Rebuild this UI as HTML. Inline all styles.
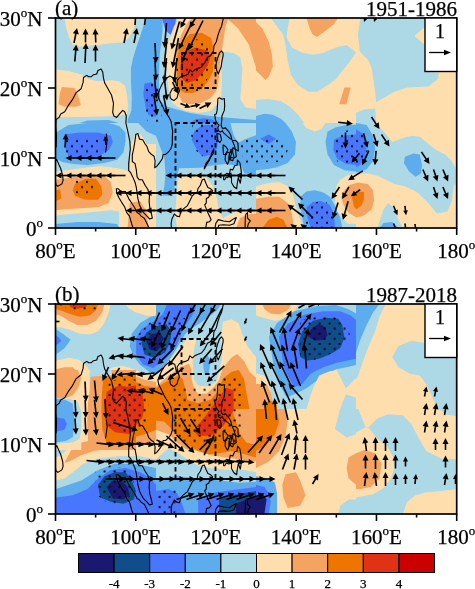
<!DOCTYPE html><html><head><meta charset="utf-8"><style>html,body{margin:0;padding:0;background:#fff;}svg{display:block;filter:blur(0.4px);}text{font-family:"Liberation Serif",serif;fill:#000;stroke:#000;stroke-width:0.25px;}</style></head><body>
<svg width="475" height="589" viewBox="0 0 475 589">
<rect width="475" height="589" fill="#fff"/>
<defs>
<clipPath id="cpa"><rect x="56" y="18" width="401" height="210"/></clipPath>
<clipPath id="cpb"><rect x="56" y="304" width="401" height="210"/></clipPath>
</defs>
<g clip-path="url(#cpa)">
<clipPath id="ta00"><rect x="56" y="18" width="100" height="105"/></clipPath>
<g clip-path="url(#ta00)"><g transform="translate(56,18) scale(0.210526,0.210526)">
<rect x="-5" y="-5" width="490" height="510" fill="#add8e6"/>
<polygon points="40,0 385,0 370,50 345,95 320,115 260,120 190,128 120,135 80,128 62,95 48,45" fill="#ffdead"/>
<polygon points="0,245 60,252 120,268 150,290 200,300 260,296 300,300 328,322 338,370 342,420 338,455 300,465 200,468 100,470 0,472" fill="#ffdead"/>
<polygon points="28,328 88,332 104,365 118,414 90,422 40,422 12,410 18,360" fill="#f4a460"/>
<polygon points="425,0 475,0 475,499 340,499 342,480 358,440 360,380 356,300 356,240 366,190 385,130 405,70 418,30" fill="#5cacee"/>
<polygon points="110,499 150,487 250,485 300,499" fill="#5cacee"/>
<polygon points="420,312 450,305 475,318 475,470 440,462 425,420 415,360" fill="#4876ff"/>
</g></g>
<clipPath id="ta01"><rect x="56" y="123" width="100" height="105"/></clipPath>
<g clip-path="url(#ta01)"><g transform="translate(56,123) scale(0.210526,0.210526)">
<rect x="-5" y="-5" width="490" height="510" fill="#add8e6"/>
<polygon points="0,45 60,9 150,0 250,0 300,14 330,45 330,90 320,140 290,175 230,190 150,200 80,195 30,185 0,170" fill="#5cacee"/>
<polygon points="40,55 110,45 200,45 260,60 270,90 250,130 200,160 130,165 60,160 45,120" fill="#4876ff"/>
<polygon points="390,0 475,0 475,60 430,40" fill="#5cacee"/>
<polygon points="0,230 50,225 120,215 200,205 260,210 320,220 350,230 355,100 375,60 400,50 420,80 430,100 475,100 475,499 300,499 300,420 260,415 200,420 100,430 40,435 0,440" fill="#ffdead"/>
<polygon points="0,270 60,260 150,250 230,250 260,280 270,330 250,380 200,400 120,405 40,410 0,415" fill="#f4a460"/>
<polygon points="90,290 140,265 190,265 215,300 220,340 200,365 140,365 90,345 80,320" fill="#ee7600"/>
<polygon points="0,320 20,315 25,360 0,370" fill="#ee7600"/>
<polygon points="350,380 400,370 430,420 440,499 340,499 345,440" fill="#f4a460"/>
<polygon points="0,480 100,470 200,470 290,480 300,499 0,499" fill="#5cacee"/>
</g></g>
<clipPath id="ta10"><rect x="156" y="18" width="100" height="105"/></clipPath>
<g clip-path="url(#ta10)"><g transform="translate(156,18) scale(0.210526,0.210526)">
<rect x="-5" y="-5" width="490" height="510" fill="#add8e6"/>
<polygon points="0,0 31,0 31,60 25,120 18,170 15,250 14,320 14,400 20,460 30,499 0,499" fill="#5cacee"/>
<polygon points="28,0 95,0 92,30 70,80 45,60" fill="#4876ff"/>
<polygon points="0,330 18,340 20,400 22,499 0,499" fill="#4876ff"/>
<polygon points="110,0 475,0 475,432 300,440 230,450 200,450 140,440 100,420 75,400 60,340 50,260 47,180 60,110 85,40" fill="#ffdead"/>
<polygon points="307,160 340,162 370,168 400,185 410,240 405,330 400,385 425,425 475,432 475,499 150,499 200,455 260,440 290,410 310,370 313,300" fill="#add8e6"/>
<polygon points="170,0 345,0 330,40 318,120 305,200 300,280 290,340 260,380 210,405 160,410 125,400 105,360 95,300 90,220 95,150 120,80 145,30" fill="#f4a460"/>
<polygon points="335,0 475,0 475,235 440,125 390,50" fill="#f4a460"/>
<polygon points="160,76 217,70 262,95 277,164 271,254 247,302 217,338 175,356 139,356 110,340 100,280 98,200 113,128" fill="#ee7600"/>
<polygon points="126,164 187,141 241,153 259,182 247,225 217,267 187,297 145,309 121,285 115,237" fill="#e03214"/>
<polygon points="0,380 30,400 43,418 100,435 161,451 230,462 304,470 400,478 475,485 475,499 0,499" fill="#5cacee"/>
<polygon points="165,499 185,482 230,476 265,482 295,499" fill="#4876ff"/>
</g></g>
<clipPath id="ta11"><rect x="156" y="123" width="100" height="105"/></clipPath>
<g clip-path="url(#ta11)"><g transform="translate(156,123) scale(0.210526,0.210526)">
<rect x="-5" y="-5" width="490" height="510" fill="#add8e6"/>
<polygon points="0,0 353,0 369,58 390,95 420,78 475,58 475,245 420,240 405,205 330,195 280,200 210,212 110,215 90,290 80,345 30,345 40,300 45,240 40,170 0,60" fill="#5cacee"/>
<polygon points="180,40 220,10 290,10 300,60 290,120 260,150 220,160 190,120 170,80" fill="#4876ff"/>
<polygon points="110,250 200,245 240,260 270,300 290,360 300,420 330,470 380,440 475,420 475,499 100,499 90,440 95,380 100,310" fill="#ffdead"/>
<polygon points="300,499 320,450 380,420 475,410 475,499" fill="#ffdead"/>
<polygon points="380,499 400,450 440,435 475,430 475,499" fill="#f4a460"/>
</g></g>
<clipPath id="ta20"><rect x="256" y="18" width="100" height="105"/></clipPath>
<g clip-path="url(#ta20)"><g transform="translate(256,18) scale(0.210526,0.210526)">
<rect x="-5" y="-5" width="490" height="510" fill="#ffdead"/>
<polygon points="0,20 30,50 60,110 75,170 80,230 60,280 45,295 20,270 0,250" fill="#f4a460"/>
<polygon points="240,0 390,0 370,30 330,60 290,90 270,80 255,50" fill="#f4a460"/>
<polygon points="70,0 160,0 150,50 145,90 170,140 220,165 270,175 320,165 380,140 430,128 460,150 475,164 440,215 410,250 380,290 340,320 290,350 250,350 200,320 165,270 150,200 140,130 130,80 100,40" fill="#add8e6"/>
<polygon points="0,390 60,385 120,395 160,420 200,460 230,499 0,499" fill="#add8e6"/>
<polygon points="0,465 40,455 80,460 120,480 140,499 0,499" fill="#5cacee"/>
<polygon points="420,330 450,330 430,410 395,410" fill="#f4a460"/>
</g></g>
<clipPath id="ta21"><rect x="256" y="123" width="100" height="105"/></clipPath>
<g clip-path="url(#ta21)"><g transform="translate(256,123) scale(0.210526,0.210526)">
<rect x="-5" y="-5" width="490" height="510" fill="#add8e6"/>
<polygon points="0,0 140,0 170,40 190,90 185,150 150,190 100,210 50,220 0,225" fill="#5cacee"/>
<polygon points="20,75 60,55 95,75 60,100" fill="#4876ff"/>
<polygon points="220,0 330,0 310,30 280,40 240,25" fill="#ffdead"/>
<polygon points="340,40 380,20 430,10 475,10 475,230 420,225 370,200 340,150 330,90" fill="#5cacee"/>
<polygon points="370,80 410,60 475,55 475,200 430,195 385,170 368,130" fill="#4876ff"/>
<polygon points="0,300 60,285 110,280 150,300 175,340 190,400 210,460 220,499 0,499" fill="#ffdead"/>
<polygon points="0,360 60,350 110,350 150,380 170,430 180,499 0,499" fill="#f4a460"/>
<polygon points="30,499 60,460 100,445 130,460 150,499" fill="#ee7600"/>
<polygon points="210,350 240,325 280,320 320,330 350,350 380,400 400,450 410,499 230,499 215,430" fill="#5cacee"/>
<polygon points="240,400 270,375 310,370 350,390 370,430 375,499 260,499 245,450" fill="#4876ff"/>
<polygon points="381,302 400,270 435,247 475,240 475,480 435,477 387,423 375,375" fill="#ffdead"/>
</g></g>
<clipPath id="ta30"><rect x="356" y="18" width="101" height="105"/></clipPath>
<g clip-path="url(#ta30)"><g transform="translate(356,18) scale(0.212632,0.210526)">
<rect x="-5" y="-5" width="490" height="510" fill="#ffdead"/>
<polygon points="20,0 330,0 325,40 275,85 325,130 325,255 390,260 385,290 340,325 240,330 180,350 130,380 95,400 90,350 74,240 57,200 18,160 9,80" fill="#add8e6"/>
<polygon points="0,450 40,435 90,430 95,499 0,499" fill="#add8e6"/>
</g></g>
<clipPath id="ta31"><rect x="356" y="123" width="101" height="105"/></clipPath>
<g clip-path="url(#ta31)"><g transform="translate(356,123) scale(0.212632,0.210526)">
<rect x="-5" y="-5" width="490" height="510" fill="#ffdead"/>
<polygon points="0,0 90,0 130,40 170,90 210,75 260,60 300,65 340,100 380,130 420,150 450,180 470,220 475,280 460,300 450,370 430,420 380,430 340,380 290,330 230,300 180,290 140,270 100,250 60,240 20,240 0,245" fill="#add8e6"/>
<polygon points="0,0 50,10 80,60 90,120 80,180 50,220 20,230 0,235" fill="#5cacee"/>
<polygon points="0,30 30,50 50,100 45,160 20,200 0,210" fill="#4876ff"/>
<polygon points="230,160 270,145 300,150 310,200 305,240 280,255 250,230 225,190" fill="#5cacee"/>
<polygon points="100,499 130,410 150,380 175,400 200,460 220,499" fill="#add8e6"/>
<polygon points="110,499 130,475 170,470 200,499" fill="#5cacee"/>
</g></g>
<polygon points="342.5,192.7 348.8,185.2 357.7,182.6 367.8,183.9 372.8,190.2 374.1,200.3 371.6,209.2 364,215.5 356.4,217.4 348.8,212.9 343.8,205.4 341.3,197.8" fill="#f4a460"/><polygon points="351.4,194 357.7,191.5 364,192.1 364,199 361.5,205.4 356.4,209.2 353.9,206.6 352.6,200.3" fill="#ee7600"/>
<polyline points="56.1,147.5 56.5,136.3 55.9,126.5 56.1,119.5 59.1,117.4 60.7,113.9 64.7,111.8 68.7,104.8 72.3,99.9 75.9,92.9 81.1,88.7 83.1,82.4 83.5,77.5 86.7,75.4 88.7,76.8 91.1,76.8 93.5,74.7 96.7,74.0 97.9,70.5 101.1,69.1 102.7,71.9 103.5,78.2 104.7,83.1 106.7,86.6 109.5,91.5 111.5,95.0 113.5,103.4 112.7,112.5 113.9,116.0 116.7,117.4 119.5,113.9 122.7,110.4 124.7,111.8 126.3,116.0 125.9,123.0 127.5,130.0 128.7,135.6 129.9,141.9 130.3,148.9 129.5,155.9 128.7,163.6 128.7,170.6 130.7,172.7 132.7,176.9 135.1,182.5 136.3,187.4 137.1,193.0 137.9,198.6 139.5,204.9 141.1,208.4 143.5,212.6 147.1,216.1 149.5,218.9 152.3,218.2 151.5,214.0 149.9,208.4 149.1,201.4 149.5,195.8 147.9,189.5 145.1,185.3 142.3,179.7 139.1,179.7 137.1,176.9 136.3,169.9 135.1,163.6 132.3,161.5 132.3,155.2 133.9,147.5 135.1,139.8 135.9,134.2 137.9,133.5 139.5,139.1 142.7,139.8 145.1,144.0 147.1,146.8 148.7,151.7 151.5,154.5 153.9,155.9 155.1,160.8 154.7,167.8 156.7,166.4 159.5,162.9 162.3,158.7 163.1,154.5 165.5,154.5 168.7,151.7 171.1,148.2 172.3,144.0 172.3,137.7 172.7,131.4 171.1,121.6 169.1,117.4 165.9,112.5 163.9,109.0 161.5,104.1 158.7,98.5 157.9,94.3 159.9,88.7 162.3,83.8 165.1,79.6 167.5,77.5 169.9,76.1 172.3,77.5 174.7,78.2 176.3,85.2 177.5,85.9 177.1,81.0 179.5,77.5 182.7,76.1 185.5,75.4 188.3,74.0 189.9,69.8 192.3,71.9 194.7,69.8 197.5,68.4 201.5,67.0 204.7,62.8 207.5,57.2 210.3,55.8 213.5,50.9 213.9,46.0 216.3,41.8 217.9,35.5 219.5,30.6 221.5,26.4 223.1,19.4 223.9,16.6" fill="none" stroke="#000" stroke-width="1.1" stroke-linejoin="round"/>
<polyline points="55.1,179.0 54.9,172.0 55.5,161.5 56.7,159.4 59.1,165.0 60.7,168.5 62.7,175.5 63.1,180.4 61.9,183.9 57.9,186.3 55.9,184.6 55.1,179.0" fill="none" stroke="#000" stroke-width="1.1" stroke-linejoin="round"/>
<polyline points="169.9,93.6 172.3,88.7 173.9,88.0 176.3,87.3 178.3,87.3 179.5,90.8 177.9,94.3 177.1,97.8 173.9,100.6 171.5,99.2 170.3,97.8 169.9,93.6" fill="none" stroke="#000" stroke-width="1.1" stroke-linejoin="round"/>
<polyline points="215.9,67.0 216.7,70.5 218.3,74.0 219.1,71.9 221.1,67.0 221.9,61.4 223.1,55.8 223.1,53.0 221.5,50.9 219.5,53.0 217.9,57.2 216.3,62.8 215.9,67.0" fill="none" stroke="#000" stroke-width="1.1" stroke-linejoin="round"/>
<polyline points="217.9,98.5 219.5,97.8 221.9,99.2 224.3,98.5 224.7,105.5 224.3,110.4 221.9,116.0 221.9,119.5 221.1,125.8 222.7,128.6 225.5,127.9 226.7,129.3 228.7,131.4 230.7,134.9 231.9,139.8 229.9,138.4 227.5,136.3 225.9,134.9 223.5,132.8 222.3,130.7 220.3,132.1 218.3,130.7 217.9,127.2 219.1,125.1 217.5,123.7 215.5,120.2 214.7,114.6 216.3,113.9 217.1,110.4 217.5,104.8 217.9,98.5" fill="none" stroke="#000" stroke-width="1.1" stroke-linejoin="round"/>
<polyline points="216.7,133.5 220.3,134.2 221.5,139.8 219.9,142.6 217.9,140.5 216.7,133.5" fill="none" stroke="#000" stroke-width="1.1" stroke-linejoin="round"/>
<polyline points="232.3,140.5 235.5,140.5 237.9,142.6 238.3,151.0 235.5,149.6 234.3,145.4 232.3,140.5" fill="none" stroke="#000" stroke-width="1.1" stroke-linejoin="round"/>
<polyline points="232.7,147.5 235.5,149.6 236.3,156.6 234.3,158.0 232.7,152.4 232.7,147.5" fill="none" stroke="#000" stroke-width="1.1" stroke-linejoin="round"/>
<polyline points="223.1,144.7 225.9,146.8 227.9,149.6 226.3,154.5 223.5,154.5 223.1,149.6 223.1,144.7" fill="none" stroke="#000" stroke-width="1.1" stroke-linejoin="round"/>
<polyline points="227.1,151.7 229.5,153.1 228.7,161.5 227.5,164.3 225.1,160.1 225.5,153.8 227.1,151.7" fill="none" stroke="#000" stroke-width="1.1" stroke-linejoin="round"/>
<polyline points="231.1,148.9 231.5,153.8 229.5,160.1 229.1,155.9 231.1,148.9" fill="none" stroke="#000" stroke-width="1.1" stroke-linejoin="round"/>
<polyline points="230.7,157.3 233.5,158.0 232.7,160.8 230.7,160.1 230.7,157.3" fill="none" stroke="#000" stroke-width="1.1" stroke-linejoin="round"/>
<polyline points="223.5,179.7 223.9,175.5 226.7,173.4 229.5,174.1 230.3,169.2 232.7,169.9 234.7,165.7 237.1,165.0 237.5,160.1 239.9,162.9 241.1,169.9 241.5,175.5 240.3,183.2 238.3,177.6 237.1,184.6 236.7,188.8 233.9,186.7 231.5,182.5 231.5,176.9 229.1,176.2 227.5,177.6 226.3,176.9 224.7,179.7 223.5,179.7" fill="none" stroke="#000" stroke-width="1.1" stroke-linejoin="round"/>
<polyline points="204.3,169.2 206.3,165.0 209.1,160.8 210.7,157.3 213.1,153.8 213.9,148.9 212.7,151.0 211.1,155.2 208.7,160.1 206.3,162.9 204.3,167.8 204.3,169.2" fill="none" stroke="#000" stroke-width="1.1" stroke-linejoin="round"/>
<polyline points="171.5,229.4 171.1,223.8 171.9,218.9 174.3,214.0 176.7,216.1 179.5,216.8 180.7,211.9 183.1,209.1 187.5,205.6 189.9,200.7 192.3,195.8 194.7,193.7 197.1,193.0 197.9,188.8 200.3,185.3 202.3,179.7 204.3,179.0 205.9,183.2 207.9,187.4 210.7,188.8 212.7,190.9 209.9,193.7 208.7,197.2 206.3,198.6 206.3,202.8 204.7,204.9 207.5,211.9 211.1,219.6 209.5,221.7 206.7,222.4 205.5,229.4" fill="none" stroke="#000" stroke-width="1.1" stroke-linejoin="round"/>
<polyline points="133.5,229.4 131.9,224.5 129.5,216.1 126.7,212.6 124.7,207.0 121.5,202.1 119.1,197.9 116.7,193.0 116.3,188.8 118.3,188.8 121.1,191.6 125.5,191.6 128.7,198.6 131.5,202.8 134.7,207.7 137.1,212.6 139.5,214.0 141.1,216.1 144.3,218.2 147.1,223.8 149.5,229.4" fill="none" stroke="#000" stroke-width="1.1" stroke-linejoin="round"/>
<polyline points="214.7,229.4 215.9,223.1 218.3,219.6 223.5,221.0 229.5,221.7 233.5,218.9 236.3,217.5 233.9,223.8 229.5,225.2 223.5,224.8 218.7,225.2 217.9,229.4" fill="none" stroke="#000" stroke-width="1.1" stroke-linejoin="round"/>
<polyline points="245.5,214.7 247.5,212.6 247.5,218.2 250.3,221.0 248.3,223.8 247.1,229.4" fill="none" stroke="#000" stroke-width="1.1" stroke-linejoin="round"/>
<polyline points="245.1,229.4 245.1,223.8 245.5,214.7" fill="none" stroke="#000" stroke-width="1.1" stroke-linejoin="round"/>
<polyline points="106.3,133.5 107.1,140.5 106.3,147.5 105.5,152.4" fill="none" stroke="#000" stroke-width="1.1" stroke-linejoin="round"/>
<rect x="182" y="53" width="33.5" height="35" fill="none" stroke="#000" stroke-width="1.8" stroke-dasharray="4.5,3"/>
<rect x="175.5" y="123" width="40.0" height="70" fill="none" stroke="#000" stroke-width="1.8" stroke-dasharray="4.5,3"/>
<line x1="74.0" y1="43.0" x2="75.9" y2="33.4" stroke="#000" stroke-width="1.6"/>
<polygon points="77.0,28.0 78.8,34.5 72.9,33.3" fill="#000"/>
<line x1="74.8" y1="61.5" x2="75.8" y2="50.0" stroke="#000" stroke-width="1.6"/>
<polygon points="76.2,44.5 78.7,50.7 72.7,50.2" fill="#000"/>
<line x1="85.5" y1="42.5" x2="85.5" y2="34.0" stroke="#000" stroke-width="1.6"/>
<polygon points="85.5,28.5 88.5,34.5 82.5,34.5" fill="#000"/>
<line x1="85.0" y1="63.0" x2="85.7" y2="48.5" stroke="#000" stroke-width="1.6"/>
<polygon points="86.0,43.0 88.7,49.1 82.7,48.8" fill="#000"/>
<line x1="95.8" y1="42.5" x2="95.4" y2="34.0" stroke="#000" stroke-width="1.6"/>
<polygon points="95.2,28.5 98.5,34.4 92.5,34.6" fill="#000"/>
<line x1="95.5" y1="61.5" x2="95.5" y2="50.0" stroke="#000" stroke-width="1.6"/>
<polygon points="95.5,44.5 98.5,50.5 92.5,50.5" fill="#000"/>
<line x1="124.0" y1="43.0" x2="125.9" y2="33.4" stroke="#000" stroke-width="1.6"/>
<polygon points="127.0,28.0 128.8,34.5 122.9,33.3" fill="#000"/>
<line x1="134.0" y1="43.0" x2="135.9" y2="33.4" stroke="#000" stroke-width="1.6"/>
<polygon points="137.0,28.0 138.8,34.5 132.9,33.3" fill="#000"/>
<line x1="135.0" y1="25.0" x2="135.6" y2="16.5" stroke="#000" stroke-width="1.6"/>
<polygon points="136.0,11.0 138.6,17.2 132.6,16.8" fill="#000"/>
<line x1="144.5" y1="25.0" x2="145.7" y2="16.4" stroke="#000" stroke-width="1.6"/>
<polygon points="146.5,11.0 148.6,17.4 142.7,16.5" fill="#000"/>
<line x1="155.0" y1="43.0" x2="155.7" y2="57.5" stroke="#000" stroke-width="1.6"/>
<polygon points="156.0,63.0 152.7,57.2 158.7,56.9" fill="#000"/>
<line x1="155.0" y1="60.5" x2="155.7" y2="75.0" stroke="#000" stroke-width="1.6"/>
<polygon points="156.0,80.5 152.7,74.7 158.7,74.4" fill="#000"/>
<line x1="154.5" y1="77.0" x2="156.0" y2="93.5" stroke="#000" stroke-width="1.6"/>
<polygon points="156.5,99.0 153.0,93.3 158.9,92.8" fill="#000"/>
<line x1="154.0" y1="95.5" x2="156.2" y2="110.1" stroke="#000" stroke-width="1.6"/>
<polygon points="157.0,115.5 153.1,110.0 159.1,109.1" fill="#000"/>
<line x1="166.5" y1="23.0" x2="164.9" y2="42.5" stroke="#000" stroke-width="1.6"/>
<polygon points="164.5,48.0 162.0,41.8 168.0,42.3" fill="#000"/>
<line x1="167.0" y1="38.0" x2="164.5" y2="62.5" stroke="#000" stroke-width="1.6"/>
<polygon points="164.0,68.0 161.6,61.7 167.6,62.3" fill="#000"/>
<line x1="166.5" y1="58.0" x2="164.9" y2="77.5" stroke="#000" stroke-width="1.6"/>
<polygon points="164.5,83.0 162.0,76.8 168.0,77.3" fill="#000"/>
<line x1="164.0" y1="75.5" x2="166.3" y2="95.0" stroke="#000" stroke-width="1.6"/>
<polygon points="167.0,100.5 163.3,94.9 169.3,94.2" fill="#000"/>
<line x1="163.5" y1="95.5" x2="166.4" y2="110.1" stroke="#000" stroke-width="1.6"/>
<polygon points="167.5,115.5 163.4,110.2 169.3,109.0" fill="#000"/>
<line x1="179.5" y1="21.5" x2="173.0" y2="44.2" stroke="#000" stroke-width="1.6"/>
<polygon points="171.5,49.5 170.3,42.9 176.0,44.6" fill="#000"/>
<line x1="178.5" y1="38.0" x2="173.6" y2="62.6" stroke="#000" stroke-width="1.6"/>
<polygon points="172.5,68.0 170.7,61.5 176.6,62.7" fill="#000"/>
<line x1="177.0" y1="58.0" x2="174.7" y2="77.5" stroke="#000" stroke-width="1.6"/>
<polygon points="174.0,83.0 171.7,76.7 177.7,77.4" fill="#000"/>
<line x1="172.5" y1="82.0" x2="176.0" y2="89.1" stroke="#000" stroke-width="1.6"/>
<polygon points="178.5,94.0 173.1,90.0 178.5,87.3" fill="#000"/>
<line x1="190.5" y1="8.0" x2="183.0" y2="23.1" stroke="#000" stroke-width="1.6"/>
<polygon points="180.5,28.0 180.5,21.3 185.9,24.0" fill="#000"/>
<line x1="192.5" y1="21.5" x2="181.0" y2="44.6" stroke="#000" stroke-width="1.6"/>
<polygon points="178.5,49.5 178.5,42.8 183.9,45.5" fill="#000"/>
<line x1="189.5" y1="43.0" x2="183.5" y2="57.9" stroke="#000" stroke-width="1.6"/>
<polygon points="181.5,63.0 180.9,56.3 186.5,58.5" fill="#000"/>
<line x1="201.5" y1="8.0" x2="192.3" y2="23.3" stroke="#000" stroke-width="1.6"/>
<polygon points="189.5,28.0 190.0,21.3 195.2,24.4" fill="#000"/>
<line x1="203.0" y1="20.5" x2="190.5" y2="45.6" stroke="#000" stroke-width="1.6"/>
<polygon points="188.0,50.5 188.0,43.8 193.4,46.5" fill="#000"/>
<line x1="180.5" y1="103.5" x2="186.0" y2="105.7" stroke="#000" stroke-width="1.6"/>
<polygon points="190.5,107.5 184.5,108.0 186.5,103.0" fill="#000"/>
<line x1="190.5" y1="106.5" x2="196.0" y2="105.4" stroke="#000" stroke-width="1.6"/>
<polygon points="200.5,104.5 196.0,108.0 195.0,103.0" fill="#000"/>
<line x1="199.5" y1="108.5" x2="206.6" y2="105.0" stroke="#000" stroke-width="1.6"/>
<polygon points="211.5,102.5 207.5,107.9 204.8,102.5" fill="#000"/>
<line x1="65.0" y1="147.5" x2="65.6" y2="139.0" stroke="#000" stroke-width="1.6"/>
<polygon points="66.0,133.5 68.6,139.7 62.6,139.3" fill="#000"/>
<line x1="106.0" y1="145.0" x2="105.4" y2="140.0" stroke="#000" stroke-width="1.6"/>
<polygon points="105.0,136.0 107.8,140.2 103.2,140.8" fill="#000"/>
<line x1="302.5" y1="199.5" x2="292.5" y2="190.2" stroke="#000" stroke-width="1.6"/>
<polygon points="288.5,186.5 294.9,188.4 290.9,192.8" fill="#000"/>
<line x1="303.5" y1="216.5" x2="291.9" y2="207.8" stroke="#000" stroke-width="1.6"/>
<polygon points="287.5,204.5 294.1,205.7 290.5,210.5" fill="#000"/>
<line x1="313.0" y1="218.0" x2="301.9" y2="206.9" stroke="#000" stroke-width="1.6"/>
<polygon points="298.0,203.0 304.4,205.1 300.1,209.4" fill="#000"/>
<line x1="300.5" y1="232.0" x2="294.8" y2="227.4" stroke="#000" stroke-width="1.6"/>
<polygon points="290.5,224.0 297.1,225.4 293.3,230.1" fill="#000"/>
<line x1="310.5" y1="232.0" x2="304.8" y2="227.4" stroke="#000" stroke-width="1.6"/>
<polygon points="300.5,224.0 307.1,225.4 303.3,230.1" fill="#000"/>
<line x1="338.2" y1="122.3" x2="347.3" y2="123.2" stroke="#000" stroke-width="1.6"/>
<polygon points="352.8,123.7 346.5,126.1 347.1,120.1" fill="#000"/>
<line x1="371.5" y1="117.0" x2="376.4" y2="124.4" stroke="#000" stroke-width="1.6"/>
<polygon points="379.5,129.0 373.7,125.7 378.7,122.3" fill="#000"/>
<line x1="381.5" y1="134.5" x2="386.4" y2="141.9" stroke="#000" stroke-width="1.6"/>
<polygon points="389.5,146.5 383.7,143.2 388.7,139.8" fill="#000"/>
<line x1="363.5" y1="133.2" x2="366.0" y2="142.5" stroke="#000" stroke-width="1.6"/>
<polygon points="367.5,147.8 363.0,142.8 368.8,141.2" fill="#000"/>
<line x1="373.5" y1="134.0" x2="375.9" y2="141.7" stroke="#000" stroke-width="1.6"/>
<polygon points="377.5,147.0 372.9,142.1 378.6,140.4" fill="#000"/>
<line x1="368.8" y1="150.7" x2="364.5" y2="160.3" stroke="#000" stroke-width="1.6"/>
<polygon points="362.2,165.3 361.9,158.6 367.4,161.1" fill="#000"/>
<line x1="376.1" y1="150.7" x2="375.3" y2="159.8" stroke="#000" stroke-width="1.6"/>
<polygon points="374.9,165.3 372.4,159.1 378.4,159.6" fill="#000"/>
<line x1="359.5" y1="153.3" x2="355.1" y2="158.5" stroke="#000" stroke-width="1.6"/>
<polygon points="351.5,162.7 353.1,156.1 357.7,160.1" fill="#000"/>
<line x1="345.5" y1="132.5" x2="345.5" y2="143.0" stroke="#000" stroke-width="1.6"/>
<polygon points="345.5,148.5 342.5,142.5 348.5,142.5" fill="#000"/>
<line x1="362.8" y1="170.8" x2="352.8" y2="177.2" stroke="#000" stroke-width="1.6"/>
<polygon points="348.2,180.2 351.6,174.4 354.9,179.5" fill="#000"/>
<line x1="360.1" y1="189.7" x2="355.1" y2="193.3" stroke="#000" stroke-width="1.6"/>
<polygon points="350.9,196.3 353.9,190.7 357.1,195.3" fill="#000"/>
<line x1="348.9" y1="187.0" x2="344.8" y2="194.2" stroke="#000" stroke-width="1.6"/>
<polygon points="342.1,199.0 342.5,192.3 347.7,195.2" fill="#000"/>
<line x1="339.5" y1="187.0" x2="334.6" y2="194.4" stroke="#000" stroke-width="1.6"/>
<polygon points="331.5,199.0 332.3,192.3 337.3,195.7" fill="#000"/>
<line x1="348.1" y1="201.2" x2="344.4" y2="214.5" stroke="#000" stroke-width="1.6"/>
<polygon points="342.9,219.8 341.6,213.2 347.4,214.9" fill="#000"/>
<line x1="338.1" y1="202.5" x2="334.6" y2="213.3" stroke="#000" stroke-width="1.6"/>
<polygon points="332.9,218.5 331.9,211.9 337.6,213.7" fill="#000"/>
<line x1="421.5" y1="152.0" x2="426.4" y2="159.4" stroke="#000" stroke-width="1.6"/>
<polygon points="429.5,164.0 423.7,160.7 428.7,157.3" fill="#000"/>
<line x1="422.9" y1="169.5" x2="425.9" y2="176.5" stroke="#000" stroke-width="1.6"/>
<polygon points="428.1,181.5 423.0,177.2 428.5,174.8" fill="#000"/>
<line x1="433.5" y1="169.5" x2="435.8" y2="176.3" stroke="#000" stroke-width="1.6"/>
<polygon points="437.5,181.5 432.8,176.8 438.4,174.9" fill="#000"/>
<line x1="442.9" y1="169.5" x2="445.9" y2="176.5" stroke="#000" stroke-width="1.6"/>
<polygon points="448.1,181.5 443.0,177.2 448.5,174.8" fill="#000"/>
<line x1="433.5" y1="187.0" x2="435.8" y2="193.8" stroke="#000" stroke-width="1.6"/>
<polygon points="437.5,199.0 432.8,194.3 438.4,192.4" fill="#000"/>
<line x1="442.9" y1="187.0" x2="445.9" y2="194.0" stroke="#000" stroke-width="1.6"/>
<polygon points="448.1,199.0 443.0,194.7 448.5,192.3" fill="#000"/>
<line x1="393.5" y1="205.8" x2="395.7" y2="211.0" stroke="#000" stroke-width="1.6"/>
<polygon points="397.5,215.2 393.2,211.5 397.8,209.5" fill="#000"/>
<line x1="404.9" y1="205.8" x2="405.6" y2="211.0" stroke="#000" stroke-width="1.6"/>
<polygon points="406.1,215.2 403.2,210.8 407.8,210.2" fill="#000"/>
<line x1="393.5" y1="223.5" x2="395.7" y2="228.5" stroke="#000" stroke-width="1.6"/>
<polygon points="397.5,232.5 393.2,229.0 397.8,227.0" fill="#000"/>
<line x1="405.0" y1="223.5" x2="405.6" y2="228.5" stroke="#000" stroke-width="1.6"/>
<polygon points="406.0,232.5 403.2,228.2 407.8,227.8" fill="#000"/>
<line x1="415.0" y1="224.0" x2="415.6" y2="228.5" stroke="#000" stroke-width="1.6"/>
<polygon points="416.0,232.0 413.5,228.2 417.5,227.8" fill="#000"/>
<line x1="367.0" y1="14.0" x2="365.3" y2="18.5" stroke="#000" stroke-width="1.6"/>
<polygon points="364.0,22.0 363.5,17.2 367.5,18.8" fill="#000"/>
<line x1="377.0" y1="14.0" x2="375.3" y2="18.5" stroke="#000" stroke-width="1.6"/>
<polygon points="374.0,22.0 373.5,17.2 377.5,18.8" fill="#000"/>
<line x1="85.5" y1="158.0" x2="71.0" y2="158.0" stroke="#000" stroke-width="1.6"/>
<polygon points="65.5,158.0 71.5,155.0 71.5,161.0" fill="#000"/>
<line x1="95.5" y1="158.0" x2="81.0" y2="158.0" stroke="#000" stroke-width="1.6"/>
<polygon points="75.5,158.0 81.5,155.0 81.5,161.0" fill="#000"/>
<line x1="105.5" y1="158.0" x2="91.0" y2="158.0" stroke="#000" stroke-width="1.6"/>
<polygon points="85.5,158.0 91.5,155.0 91.5,161.0" fill="#000"/>
<line x1="115.5" y1="158.0" x2="101.0" y2="158.0" stroke="#000" stroke-width="1.6"/>
<polygon points="95.5,158.0 101.5,155.0 101.5,161.0" fill="#000"/>
<line x1="75.5" y1="175.5" x2="61.0" y2="175.5" stroke="#000" stroke-width="1.6"/>
<polygon points="55.5,175.5 61.5,172.5 61.5,178.5" fill="#000"/>
<line x1="85.5" y1="175.5" x2="71.0" y2="175.5" stroke="#000" stroke-width="1.6"/>
<polygon points="65.5,175.5 71.5,172.5 71.5,178.5" fill="#000"/>
<line x1="95.5" y1="175.5" x2="81.0" y2="175.5" stroke="#000" stroke-width="1.6"/>
<polygon points="75.5,175.5 81.5,172.5 81.5,178.5" fill="#000"/>
<line x1="105.5" y1="175.5" x2="91.0" y2="175.5" stroke="#000" stroke-width="1.6"/>
<polygon points="85.5,175.5 91.5,172.5 91.5,178.5" fill="#000"/>
<line x1="115.5" y1="175.5" x2="101.0" y2="175.5" stroke="#000" stroke-width="1.6"/>
<polygon points="95.5,175.5 101.5,172.5 101.5,178.5" fill="#000"/>
<line x1="125.5" y1="175.5" x2="111.0" y2="175.5" stroke="#000" stroke-width="1.6"/>
<polygon points="105.5,175.5 111.5,172.5 111.5,178.5" fill="#000"/>
<line x1="185.5" y1="175.5" x2="171.0" y2="175.5" stroke="#000" stroke-width="1.6"/>
<polygon points="165.5,175.5 171.5,172.5 171.5,178.5" fill="#000"/>
<line x1="195.5" y1="175.5" x2="181.0" y2="175.5" stroke="#000" stroke-width="1.6"/>
<polygon points="175.5,175.5 181.5,172.5 181.5,178.5" fill="#000"/>
<line x1="205.5" y1="175.5" x2="191.0" y2="175.5" stroke="#000" stroke-width="1.6"/>
<polygon points="185.5,175.5 191.5,172.5 191.5,178.5" fill="#000"/>
<line x1="215.5" y1="175.5" x2="201.0" y2="175.5" stroke="#000" stroke-width="1.6"/>
<polygon points="195.5,175.5 201.5,172.5 201.5,178.5" fill="#000"/>
<line x1="225.5" y1="175.5" x2="211.0" y2="175.5" stroke="#000" stroke-width="1.6"/>
<polygon points="205.5,175.5 211.5,172.5 211.5,178.5" fill="#000"/>
<line x1="235.5" y1="175.5" x2="221.0" y2="175.5" stroke="#000" stroke-width="1.6"/>
<polygon points="215.5,175.5 221.5,172.5 221.5,178.5" fill="#000"/>
<line x1="245.5" y1="175.5" x2="231.0" y2="175.5" stroke="#000" stroke-width="1.6"/>
<polygon points="225.5,175.5 231.5,172.5 231.5,178.5" fill="#000"/>
<line x1="255.5" y1="175.5" x2="241.0" y2="175.5" stroke="#000" stroke-width="1.6"/>
<polygon points="235.5,175.5 241.5,172.5 241.5,178.5" fill="#000"/>
<line x1="265.5" y1="175.5" x2="251.0" y2="175.5" stroke="#000" stroke-width="1.6"/>
<polygon points="245.5,175.5 251.5,172.5 251.5,178.5" fill="#000"/>
<line x1="275.5" y1="175.5" x2="261.0" y2="175.5" stroke="#000" stroke-width="1.6"/>
<polygon points="255.5,175.5 261.5,172.5 261.5,178.5" fill="#000"/>
<line x1="285.5" y1="175.5" x2="271.0" y2="175.5" stroke="#000" stroke-width="1.6"/>
<polygon points="265.5,175.5 271.5,172.5 271.5,178.5" fill="#000"/>
<line x1="135.5" y1="193.0" x2="121.0" y2="193.0" stroke="#000" stroke-width="1.6"/>
<polygon points="115.5,193.0 121.5,190.0 121.5,196.0" fill="#000"/>
<line x1="145.5" y1="193.0" x2="131.0" y2="193.0" stroke="#000" stroke-width="1.6"/>
<polygon points="125.5,193.0 131.5,190.0 131.5,196.0" fill="#000"/>
<line x1="155.5" y1="193.0" x2="141.0" y2="193.0" stroke="#000" stroke-width="1.6"/>
<polygon points="135.5,193.0 141.5,190.0 141.5,196.0" fill="#000"/>
<line x1="165.5" y1="193.0" x2="151.0" y2="193.0" stroke="#000" stroke-width="1.6"/>
<polygon points="145.5,193.0 151.5,190.0 151.5,196.0" fill="#000"/>
<line x1="175.5" y1="193.0" x2="161.0" y2="193.0" stroke="#000" stroke-width="1.6"/>
<polygon points="155.5,193.0 161.5,190.0 161.5,196.0" fill="#000"/>
<line x1="185.5" y1="193.0" x2="171.0" y2="193.0" stroke="#000" stroke-width="1.6"/>
<polygon points="165.5,193.0 171.5,190.0 171.5,196.0" fill="#000"/>
<line x1="195.5" y1="193.0" x2="181.0" y2="193.0" stroke="#000" stroke-width="1.6"/>
<polygon points="175.5,193.0 181.5,190.0 181.5,196.0" fill="#000"/>
<line x1="205.5" y1="193.0" x2="191.0" y2="193.0" stroke="#000" stroke-width="1.6"/>
<polygon points="185.5,193.0 191.5,190.0 191.5,196.0" fill="#000"/>
<line x1="215.5" y1="193.0" x2="201.0" y2="193.0" stroke="#000" stroke-width="1.6"/>
<polygon points="195.5,193.0 201.5,190.0 201.5,196.0" fill="#000"/>
<line x1="225.5" y1="193.0" x2="211.0" y2="193.0" stroke="#000" stroke-width="1.6"/>
<polygon points="205.5,193.0 211.5,190.0 211.5,196.0" fill="#000"/>
<line x1="235.5" y1="193.0" x2="221.0" y2="193.0" stroke="#000" stroke-width="1.6"/>
<polygon points="215.5,193.0 221.5,190.0 221.5,196.0" fill="#000"/>
<line x1="245.5" y1="193.0" x2="231.0" y2="193.0" stroke="#000" stroke-width="1.6"/>
<polygon points="225.5,193.0 231.5,190.0 231.5,196.0" fill="#000"/>
<line x1="255.5" y1="193.0" x2="241.0" y2="193.0" stroke="#000" stroke-width="1.6"/>
<polygon points="235.5,193.0 241.5,190.0 241.5,196.0" fill="#000"/>
<line x1="265.5" y1="193.0" x2="251.0" y2="193.0" stroke="#000" stroke-width="1.6"/>
<polygon points="245.5,193.0 251.5,190.0 251.5,196.0" fill="#000"/>
<line x1="275.5" y1="193.0" x2="261.0" y2="193.0" stroke="#000" stroke-width="1.6"/>
<polygon points="255.5,193.0 261.5,190.0 261.5,196.0" fill="#000"/>
<line x1="285.5" y1="193.0" x2="271.0" y2="193.0" stroke="#000" stroke-width="1.6"/>
<polygon points="265.5,193.0 271.5,190.0 271.5,196.0" fill="#000"/>
<line x1="145.5" y1="210.5" x2="131.0" y2="210.5" stroke="#000" stroke-width="1.6"/>
<polygon points="125.5,210.5 131.5,207.5 131.5,213.5" fill="#000"/>
<line x1="155.5" y1="210.5" x2="141.0" y2="210.5" stroke="#000" stroke-width="1.6"/>
<polygon points="135.5,210.5 141.5,207.5 141.5,213.5" fill="#000"/>
<line x1="165.5" y1="210.5" x2="151.0" y2="210.5" stroke="#000" stroke-width="1.6"/>
<polygon points="145.5,210.5 151.5,207.5 151.5,213.5" fill="#000"/>
<line x1="175.5" y1="210.5" x2="161.0" y2="210.5" stroke="#000" stroke-width="1.6"/>
<polygon points="155.5,210.5 161.5,207.5 161.5,213.5" fill="#000"/>
<line x1="185.5" y1="210.5" x2="171.0" y2="210.5" stroke="#000" stroke-width="1.6"/>
<polygon points="165.5,210.5 171.5,207.5 171.5,213.5" fill="#000"/>
<line x1="195.5" y1="210.5" x2="181.0" y2="210.5" stroke="#000" stroke-width="1.6"/>
<polygon points="175.5,210.5 181.5,207.5 181.5,213.5" fill="#000"/>
<line x1="205.5" y1="210.5" x2="191.0" y2="210.5" stroke="#000" stroke-width="1.6"/>
<polygon points="185.5,210.5 191.5,207.5 191.5,213.5" fill="#000"/>
<line x1="215.5" y1="210.5" x2="201.0" y2="210.5" stroke="#000" stroke-width="1.6"/>
<polygon points="195.5,210.5 201.5,207.5 201.5,213.5" fill="#000"/>
<line x1="225.5" y1="210.5" x2="211.0" y2="210.5" stroke="#000" stroke-width="1.6"/>
<polygon points="205.5,210.5 211.5,207.5 211.5,213.5" fill="#000"/>
<line x1="235.5" y1="210.5" x2="221.0" y2="210.5" stroke="#000" stroke-width="1.6"/>
<polygon points="215.5,210.5 221.5,207.5 221.5,213.5" fill="#000"/>
<line x1="245.5" y1="210.5" x2="231.0" y2="210.5" stroke="#000" stroke-width="1.6"/>
<polygon points="225.5,210.5 231.5,207.5 231.5,213.5" fill="#000"/>
<line x1="255.5" y1="210.5" x2="241.0" y2="210.5" stroke="#000" stroke-width="1.6"/>
<polygon points="235.5,210.5 241.5,207.5 241.5,213.5" fill="#000"/>
<line x1="265.5" y1="210.5" x2="251.0" y2="210.5" stroke="#000" stroke-width="1.6"/>
<polygon points="245.5,210.5 251.5,207.5 251.5,213.5" fill="#000"/>
<line x1="275.5" y1="210.5" x2="261.0" y2="210.5" stroke="#000" stroke-width="1.6"/>
<polygon points="255.5,210.5 261.5,207.5 261.5,213.5" fill="#000"/>
<line x1="285.5" y1="210.5" x2="271.0" y2="210.5" stroke="#000" stroke-width="1.6"/>
<polygon points="265.5,210.5 271.5,207.5 271.5,213.5" fill="#000"/>
<defs><pattern id="sta" patternUnits="userSpaceOnUse" x="7" y="8.6" width="10" height="10.2"><circle cx="0" cy="0" r="1.05" fill="#000"/><circle cx="10" cy="0" r="1.05" fill="#000"/><circle cx="0" cy="10.2" r="1.05" fill="#000"/><circle cx="10" cy="10.2" r="1.05" fill="#000"/><circle cx="5" cy="5.1" r="1.05" fill="#000"/></pattern></defs>
<polygon points="64,139 100,139 100,153 64,153" fill="url(#sta)"/>
<polygon points="74,179 95,179 95,195 74,195" fill="url(#sta)"/>
<polygon points="178,45 192,38 205,42 212,55 210,75 200,90 185,96 178,88 176,65" fill="url(#sta)"/>
<polygon points="143,85 152,82 160,88 162,110 160,125 148,122 144,105" fill="url(#sta)"/>
<polygon points="193,120 212,118 220,130 216,150 205,158 195,150 191,135" fill="url(#sta)"/>
<polygon points="240,140 280,138 288,150 282,162 244,163" fill="url(#sta)"/>
<polygon points="333,133 350,130 365,135 368,150 360,165 340,165 333,155" fill="url(#sta)"/>
<polygon points="305,205 325,200 335,215 335,228 305,228" fill="url(#sta)"/>
</g>
<rect x="55.5" y="18" width="401.2" height="210" fill="none" stroke="#000" stroke-width="1.7"/>
<line x1="48" y1="18" x2="56" y2="18" stroke="#000" stroke-width="1.6"/>
<text x="42.5" y="26" font-size="21" text-anchor="end">30<tspan font-size="13" dy="-9">o</tspan><tspan dy="9">N</tspan></text>
<line x1="48" y1="88" x2="56" y2="88" stroke="#000" stroke-width="1.6"/>
<text x="42.5" y="96" font-size="21" text-anchor="end">20<tspan font-size="13" dy="-9">o</tspan><tspan dy="9">N</tspan></text>
<line x1="48" y1="158" x2="56" y2="158" stroke="#000" stroke-width="1.6"/>
<text x="42.5" y="166" font-size="21" text-anchor="end">10<tspan font-size="13" dy="-9">o</tspan><tspan dy="9">N</tspan></text>
<line x1="48" y1="228" x2="56" y2="228" stroke="#000" stroke-width="1.6"/>
<text x="43" y="236" font-size="21" text-anchor="end">0<tspan font-size="13" dy="-9">o</tspan></text>
<line x1="55.5" y1="228" x2="55.5" y2="235" stroke="#000" stroke-width="1.6"/>
<line x1="95.62" y1="228" x2="95.62" y2="231.5" stroke="#000" stroke-width="1.6"/>
<line x1="135.74" y1="228" x2="135.74" y2="235" stroke="#000" stroke-width="1.6"/>
<line x1="175.85999999999999" y1="228" x2="175.85999999999999" y2="231.5" stroke="#000" stroke-width="1.6"/>
<line x1="215.98" y1="228" x2="215.98" y2="235" stroke="#000" stroke-width="1.6"/>
<line x1="256.1" y1="228" x2="256.1" y2="231.5" stroke="#000" stroke-width="1.6"/>
<line x1="296.21999999999997" y1="228" x2="296.21999999999997" y2="235" stroke="#000" stroke-width="1.6"/>
<line x1="336.34" y1="228" x2="336.34" y2="231.5" stroke="#000" stroke-width="1.6"/>
<line x1="376.46" y1="228" x2="376.46" y2="235" stroke="#000" stroke-width="1.6"/>
<line x1="416.58" y1="228" x2="416.58" y2="231.5" stroke="#000" stroke-width="1.6"/>
<line x1="456.7" y1="228" x2="456.7" y2="235" stroke="#000" stroke-width="1.6"/>
<text x="55.5" y="257.5" font-size="21" text-anchor="middle">80<tspan font-size="13" dy="-9">o</tspan><tspan dy="9">E</tspan></text>
<text x="135.74" y="257.5" font-size="21" text-anchor="middle">100<tspan font-size="13" dy="-9">o</tspan><tspan dy="9">E</tspan></text>
<text x="215.98" y="257.5" font-size="21" text-anchor="middle">120<tspan font-size="13" dy="-9">o</tspan><tspan dy="9">E</tspan></text>
<text x="296.21999999999997" y="257.5" font-size="21" text-anchor="middle">140<tspan font-size="13" dy="-9">o</tspan><tspan dy="9">E</tspan></text>
<text x="376.46" y="257.5" font-size="21" text-anchor="middle">160<tspan font-size="13" dy="-9">o</tspan><tspan dy="9">E</tspan></text>
<text x="462.7" y="257.5" font-size="21" text-anchor="middle">180<tspan font-size="13" dy="-9">o</tspan><tspan dy="9">E</tspan></text>
<g clip-path="url(#cpb)">
<clipPath id="tb00"><rect x="56" y="304" width="100" height="105"/></clipPath>
<g clip-path="url(#tb00)"><g transform="translate(56,304) scale(0.210526,0.210526)">
<rect x="-5" y="-5" width="490" height="510" fill="#add8e6"/>
<polygon points="0,0 260,0 250,40 230,90 200,130 160,145 110,140 60,120 20,110 0,110" fill="#ffdead"/>
<polygon points="0,0 230,0 220,40 190,80 150,100 100,100 60,80 20,55 0,50" fill="#f4a460"/>
<polygon points="0,0 200,0 190,30 160,55 110,60 60,45 20,30 0,25" fill="#ee7600"/>
<polygon points="60,0 150,0 140,15 100,22 70,15" fill="#e03214"/>
<polygon points="330,0 475,0 475,60 430,55 380,40 345,20" fill="#ffdead"/>
<polygon points="0,120 30,140 70,170 40,210 0,240" fill="#5cacee"/>
<polygon points="0,150 15,160 25,175 10,190 0,195" fill="#4876ff"/>
<polygon points="360,140 400,90 450,60 475,55 475,340 440,320 400,290 370,250 350,200" fill="#5cacee"/>
<polygon points="0,270 60,255 110,265 150,300 175,350 190,420 200,499 0,499" fill="#ffdead"/>
<polygon points="0,310 40,300 80,300 110,330 120,380 110,420 60,430 20,420 0,410" fill="#f4a460"/>
<polygon points="220,330 270,300 320,295 370,310 420,330 475,340 475,499 210,499 205,420" fill="#ffdead"/>
<polygon points="250,360 300,330 360,335 420,360 475,370 475,499 240,499" fill="#f4a460"/>
<polygon points="265,400 300,360 360,360 420,390 475,395 475,499 260,499" fill="#ee7600"/>
<polygon points="280,430 320,400 370,395 410,420 420,499 270,499" fill="#e03214"/>
</g></g>
<clipPath id="tb01"><rect x="56" y="409" width="100" height="105"/></clipPath>
<g clip-path="url(#tb01)"><g transform="translate(56,409) scale(0.210526,0.210526)">
<rect x="-5" y="-5" width="490" height="510" fill="#add8e6"/>
<polygon points="0,0 60,0 60,50 50,100 30,130 0,140" fill="#5cacee"/>
<polygon points="0,60 40,70 45,100 0,110" fill="#4876ff"/>
<polygon points="110,0 475,0 475,240 400,225 300,225 200,235 130,260 80,300 40,330 0,340 0,230 30,215 60,180 90,120 100,60" fill="#ffdead"/>
<polygon points="150,0 475,0 475,150 400,170 330,180 250,190 180,200 120,220 60,250 40,255 70,200 110,150 130,80" fill="#f4a460"/>
<polygon points="200,0 475,0 475,100 420,120 350,140 280,150 200,160 160,150 180,100 195,50" fill="#ee7600"/>
<polygon points="240,0 420,0 410,40 380,80 330,100 270,105 240,90 230,50" fill="#e03214"/>
<polygon points="0,380 60,360 120,340 200,290 280,260 360,260 420,270 475,280 475,499 0,499" fill="#5cacee"/>
<polygon points="0,420 80,410 150,380 200,330 260,290 330,280 400,300 450,330 475,360 475,499 0,499" fill="#4876ff"/>
<polygon points="200,360 230,320 280,300 330,300 360,340 380,390 370,430 320,450 260,440 210,420" fill="#104e8b"/>
<polygon points="240,370 270,340 310,340 340,370 350,410 320,430 270,425" fill="#191970"/>
</g></g>
<clipPath id="tb10"><rect x="156" y="304" width="100" height="105"/></clipPath>
<g clip-path="url(#tb10)"><g transform="translate(156,304) scale(0.210526,0.210526)">
<rect x="-5" y="-5" width="490" height="510" fill="#add8e6"/>
<polygon points="0,0 310,0 290,30 250,60 210,90 170,115 140,140 110,190 80,240 50,290 20,330 0,340" fill="#5cacee"/>
<polygon points="225,250 245,245 260,270 250,330 232,335 225,300" fill="#5cacee"/>
<polygon points="317,85 359,72 393,93 410,144 436,203 469,246 475,250 475,499 0,499 0,338 150,165 192,165 180,218 174,278 180,356 198,386 240,392 285,370 300,322 313,254 309,169" fill="#ffdead"/>
<polygon points="0,392 60,340 120,298 156,284 168,310 170,360 180,400 200,428 240,425 270,400 300,360 317,304 359,254 385,237 418,271 444,322 475,350 475,499 0,499" fill="#f4a460"/>
<polygon points="0,398 60,362 108,338 126,356 138,398 150,456 200,470 259,455 290,420 317,355 359,322 393,313 418,355 427,406 444,499 0,499" fill="#ee7600"/>
</g></g>
<clipPath id="tb11"><rect x="156" y="409" width="100" height="105"/></clipPath>
<g clip-path="url(#tb11)"><g transform="translate(156,409) scale(0.210526,0.210526)">
<rect x="-5" y="-5" width="490" height="510" fill="#add8e6"/>
<polygon points="0,0 475,0 475,300 420,290 340,290 260,280 200,270 150,240 100,205 60,188 20,220 0,240" fill="#ffdead"/>
<polygon points="0,0 475,0 475,250 400,240 330,230 260,220 200,200 140,190 100,160 60,120 0,100" fill="#f4a460"/>
<polygon points="0,0 360,0 380,60 400,120 430,160 475,170 475,230 420,215 360,200 300,210 250,215 200,200 150,170 100,130 70,90 40,60 0,55" fill="#ee7600"/>
<polygon points="0,330 100,320 200,330 300,340 400,350 475,345 475,499 0,499" fill="#5cacee"/>
<polygon points="0,390 60,380 100,400 120,440 140,499 0,499" fill="#4876ff"/>
<polygon points="200,430 260,400 330,390 400,380 475,370 475,499 200,499" fill="#4876ff"/>
<polygon points="300,430 360,410 420,400 475,390 475,499 300,499" fill="#104e8b"/>
<polygon points="380,450 430,430 475,420 475,499 380,499" fill="#191970"/>
</g></g>
<clipPath id="tb20"><rect x="256" y="304" width="100" height="105"/></clipPath>
<g clip-path="url(#tb20)"><g transform="translate(256,304) scale(0.210526,0.210526)">
<rect x="-5" y="-5" width="490" height="510" fill="#add8e6"/>
<polygon points="0,0 200,0 180,40 140,70 90,80 50,70 0,55" fill="#ffdead"/>
<polygon points="30,0 170,0 150,30 110,50 70,45 40,25" fill="#f4a460"/>
<polygon points="61,156 100,90 180,35 290,10 380,5 440,25 475,45 475,290 430,300 380,310 330,340 280,370 240,400 200,420 145,444 100,360 85,300" fill="#5cacee"/>
<polygon points="109,156 150,95 230,50 320,35 400,35 450,55 475,75 475,260 430,270 380,280 320,300 260,330 220,380 181,396 150,340 133,300" fill="#4876ff"/>
<polygon points="200,190 220,130 270,80 330,65 390,70 410,100 420,160 400,210 350,240 300,260 240,270 210,250" fill="#104e8b"/>
<polygon points="240,150 270,110 300,95 330,110 340,150 320,170 280,175" fill="#191970"/>
<polygon points="300,340 350,320 383,313 427,401 475,352 475,499 240,499 260,430 280,380" fill="#ffdead"/>
<polygon points="427,429 475,445 475,499 399,499" fill="#add8e6"/>
<polygon points="0,330 40,340 60,370 70,420 80,499 0,499" fill="#ffdead"/>
<polygon points="0,380 50,380 70,420 80,470 90,499 0,499" fill="#f4a460"/>
<polygon points="40,470 70,460 100,480 100,499 40,499" fill="#ee7600"/>
</g></g>
<clipPath id="tb21"><rect x="256" y="409" width="100" height="105"/></clipPath>
<g clip-path="url(#tb21)"><g transform="translate(256,409) scale(0.210526,0.210526)">
<rect x="-5" y="-5" width="490" height="510" fill="#ffdead"/>
<polygon points="0,0 140,0 150,60 140,130 110,200 60,250 0,280" fill="#f4a460"/>
<polygon points="0,0 100,0 110,60 90,120 50,170 0,200" fill="#ee7600"/>
<polygon points="399,0 475,0 475,120 431,135 375,95" fill="#add8e6"/>
<polygon points="440,230 475,210 475,360 440,330 430,280" fill="#f4a460"/>
<polygon points="140,310 190,300 210,340 235,410 210,460 150,470 130,420 125,360" fill="#f4a460"/>
<polygon points="400,460 440,430 475,430 475,499 390,499" fill="#add8e6"/>
<polygon points="0,320 60,330 90,350 100,400 100,499 0,499" fill="#5cacee"/>
<polygon points="0,360 40,370 60,400 70,440 60,499 0,499" fill="#4876ff"/>
<polygon points="0,420 30,400 50,430 40,499 0,499" fill="#191970"/>
</g></g>
<clipPath id="tb30"><rect x="356" y="304" width="101" height="105"/></clipPath>
<g clip-path="url(#tb30)"><g transform="translate(356,304) scale(0.212632,0.210526)">
<rect x="-5" y="-5" width="490" height="510" fill="#add8e6"/>
<polygon points="0,0 110,0 80,40 50,100 20,170 0,230" fill="#5cacee"/>
<polygon points="140,0 325,0 325,185 260,175 200,200 170,250 200,300 250,330 300,340 330,380 350,420 370,470 380,499 0,499 0,360 10,340 30,280 60,200 90,130 110,60" fill="#ffdead"/>
</g></g>
<clipPath id="tb31"><rect x="356" y="409" width="101" height="105"/></clipPath>
<g clip-path="url(#tb31)"><g transform="translate(356,409) scale(0.212632,0.210526)">
<rect x="-5" y="-5" width="490" height="510" fill="#add8e6"/>
<polygon points="11,0 390,0 420,25 475,35 475,240 400,235 330,200 290,130 260,70 220,30 150,25 100,45 60,87 45,87" fill="#ffdead"/>
<polygon points="0,112 45,87 60,90 100,140 150,180 175,230 180,280 165,330 130,375 80,405 0,420" fill="#ffdead"/>
<polygon points="0,210 40,195 90,210 120,260 110,330 70,370 20,380 0,380" fill="#f4a460"/>
<polygon points="220,499 240,440 280,410 330,395 400,390 475,380 475,499" fill="#ffdead"/>
</g></g>
<clipPath id="rb56370"><rect x="56" y="370" width="80" height="80"/></clipPath>
<g clip-path="url(#rb56370)"><g transform="translate(56,370) scale(0.168421)">
<rect x="-5" y="-5" width="490" height="485" fill="#ffdead"/>
<polygon points="0,0 130,0 150,50 130,110 100,150 50,170 0,175" fill="#f4a460"/>
<polygon points="200,0 330,0 320,30 290,50 255,60 230,120 205,150 200,100" fill="#add8e6"/>
<polygon points="330,0 475,0 475,20 330,40" fill="#f4a460"/>
<polygon points="0,165 80,170 130,190 150,250 150,350 140,410 100,430 0,440" fill="#add8e6"/>
<polygon points="0,170 60,180 100,200 110,300 100,400 60,420 0,430" fill="#5cacee"/>
<polygon points="0,280 50,290 65,320 50,355 0,365" fill="#4876ff"/>
<polygon points="205,40 475,20 475,475 195,475 190,420 185,300 190,200 200,120" fill="#f4a460"/>
<polygon points="280,50 330,40 475,30 475,445 300,435 275,350 270,250 272,150" fill="#ee7600"/>
<polygon points="300,130 330,110 380,90 420,100 475,90 475,360 430,380 350,370 300,330 290,250" fill="#e03214"/>
<polygon points="0,440 100,430 150,430 150,475 0,475" fill="#ffdead"/>
<polygon points="150,430 200,420 300,435 475,445 475,475 150,475" fill="#f4a460"/>
</g></g>
<polygon points="136.2,337.7 141.3,329.3 154.7,320.8 163,314 167,304 196,304 196,307 191.8,316.6 185.5,325 181.7,332 176.6,346.1 166.5,357.9 153,368 143,364.6 136.2,354.5" fill="#4876ff"/><polygon points="141.3,342.7 146.3,332.6 156.4,325.9 166.5,324.2 171.6,330.9 169.9,342.7 164.8,352.8 154.7,357.9 144.6,354.5" fill="#104e8b"/><polygon points="146.3,341 151.4,334.3 159.8,332.6 163.2,337.7 161.5,346.1 156.4,351.2 149.7,349.5" fill="#191970"/><polygon points="193.2,430.7 205.8,415.6 218.4,397.9 226,387.8 233.6,390.3 233.6,410.5 223.5,425.7 210.8,435.8 198.2,435.8" fill="#e03214"/>
<polyline points="56.1,433.5 56.5,422.3 55.9,412.5 56.1,405.5 59.1,403.4 60.7,399.9 64.7,397.8 68.7,390.8 72.3,385.9 75.9,378.9 81.1,374.7 83.1,368.4 83.5,363.5 86.7,361.4 88.7,362.8 91.1,362.8 93.5,360.7 96.7,360.0 97.9,356.5 101.1,355.1 102.7,357.9 103.5,364.2 104.7,369.1 106.7,372.6 109.5,377.5 111.5,381.0 113.5,389.4 112.7,398.5 113.9,402.0 116.7,403.4 119.5,399.9 122.7,396.4 124.7,397.8 126.3,402.0 125.9,409.0 127.5,416.0 128.7,421.6 129.9,427.9 130.3,434.9 129.5,441.9 128.7,449.6 128.7,456.6 130.7,458.7 132.7,462.9 135.1,468.5 136.3,473.4 137.1,479.0 137.9,484.6 139.5,490.9 141.1,494.4 143.5,498.6 147.1,502.1 149.5,504.9 152.3,504.2 151.5,500.0 149.9,494.4 149.1,487.4 149.5,481.8 147.9,475.5 145.1,471.3 142.3,465.7 139.1,465.7 137.1,462.9 136.3,455.9 135.1,449.6 132.3,447.5 132.3,441.2 133.9,433.5 135.1,425.8 135.9,420.2 137.9,419.5 139.5,425.1 142.7,425.8 145.1,430.0 147.1,432.8 148.7,437.7 151.5,440.5 153.9,441.9 155.1,446.8 154.7,453.8 156.7,452.4 159.5,448.9 162.3,444.7 163.1,440.5 165.5,440.5 168.7,437.7 171.1,434.2 172.3,430.0 172.3,423.7 172.7,417.4 171.1,407.6 169.1,403.4 165.9,398.5 163.9,395.0 161.5,390.1 158.7,384.5 157.9,380.3 159.9,374.7 162.3,369.8 165.1,365.6 167.5,363.5 169.9,362.1 172.3,363.5 174.7,364.2 176.3,371.2 177.5,371.9 177.1,367.0 179.5,363.5 182.7,362.1 185.5,361.4 188.3,360.0 189.9,355.8 192.3,357.9 194.7,355.8 197.5,354.4 201.5,353.0 204.7,348.8 207.5,343.2 210.3,341.8 213.5,336.9 213.9,332.0 216.3,327.8 217.9,321.5 219.5,316.6 221.5,312.4 223.1,305.4 223.9,302.6" fill="none" stroke="#000" stroke-width="1.1" stroke-linejoin="round"/>
<polyline points="55.1,465.0 54.9,458.0 55.5,447.5 56.7,445.4 59.1,451.0 60.7,454.5 62.7,461.5 63.1,466.4 61.9,469.9 57.9,472.4 55.9,470.6 55.1,465.0" fill="none" stroke="#000" stroke-width="1.1" stroke-linejoin="round"/>
<polyline points="169.9,379.6 172.3,374.7 173.9,374.0 176.3,373.3 178.3,373.3 179.5,376.8 177.9,380.3 177.1,383.8 173.9,386.6 171.5,385.2 170.3,383.8 169.9,379.6" fill="none" stroke="#000" stroke-width="1.1" stroke-linejoin="round"/>
<polyline points="215.9,353.0 216.7,356.5 218.3,360.0 219.1,357.9 221.1,353.0 221.9,347.4 223.1,341.8 223.1,339.0 221.5,336.9 219.5,339.0 217.9,343.2 216.3,348.8 215.9,353.0" fill="none" stroke="#000" stroke-width="1.1" stroke-linejoin="round"/>
<polyline points="217.9,384.5 219.5,383.8 221.9,385.2 224.3,384.5 224.7,391.5 224.3,396.4 221.9,402.0 221.9,405.5 221.1,411.8 222.7,414.6 225.5,413.9 226.7,415.3 228.7,417.4 230.7,420.9 231.9,425.8 229.9,424.4 227.5,422.3 225.9,420.9 223.5,418.8 222.3,416.7 220.3,418.1 218.3,416.7 217.9,413.2 219.1,411.1 217.5,409.7 215.5,406.2 214.7,400.6 216.3,399.9 217.1,396.4 217.5,390.8 217.9,384.5" fill="none" stroke="#000" stroke-width="1.1" stroke-linejoin="round"/>
<polyline points="216.7,419.5 220.3,420.2 221.5,425.8 219.9,428.6 217.9,426.5 216.7,419.5" fill="none" stroke="#000" stroke-width="1.1" stroke-linejoin="round"/>
<polyline points="232.3,426.5 235.5,426.5 237.9,428.6 238.3,437.0 235.5,435.6 234.3,431.4 232.3,426.5" fill="none" stroke="#000" stroke-width="1.1" stroke-linejoin="round"/>
<polyline points="232.7,433.5 235.5,435.6 236.3,442.6 234.3,444.0 232.7,438.4 232.7,433.5" fill="none" stroke="#000" stroke-width="1.1" stroke-linejoin="round"/>
<polyline points="223.1,430.7 225.9,432.8 227.9,435.6 226.3,440.5 223.5,440.5 223.1,435.6 223.1,430.7" fill="none" stroke="#000" stroke-width="1.1" stroke-linejoin="round"/>
<polyline points="227.1,437.7 229.5,439.1 228.7,447.5 227.5,450.3 225.1,446.1 225.5,439.8 227.1,437.7" fill="none" stroke="#000" stroke-width="1.1" stroke-linejoin="round"/>
<polyline points="231.1,434.9 231.5,439.8 229.5,446.1 229.1,441.9 231.1,434.9" fill="none" stroke="#000" stroke-width="1.1" stroke-linejoin="round"/>
<polyline points="230.7,443.3 233.5,444.0 232.7,446.8 230.7,446.1 230.7,443.3" fill="none" stroke="#000" stroke-width="1.1" stroke-linejoin="round"/>
<polyline points="223.5,465.7 223.9,461.5 226.7,459.4 229.5,460.1 230.3,455.2 232.7,455.9 234.7,451.7 237.1,451.0 237.5,446.1 239.9,448.9 241.1,455.9 241.5,461.5 240.3,469.2 238.3,463.6 237.1,470.6 236.7,474.8 233.9,472.7 231.5,468.5 231.5,462.9 229.1,462.2 227.5,463.6 226.3,462.9 224.7,465.7 223.5,465.7" fill="none" stroke="#000" stroke-width="1.1" stroke-linejoin="round"/>
<polyline points="204.3,455.2 206.3,451.0 209.1,446.8 210.7,443.3 213.1,439.8 213.9,434.9 212.7,437.0 211.1,441.2 208.7,446.1 206.3,448.9 204.3,453.8 204.3,455.2" fill="none" stroke="#000" stroke-width="1.1" stroke-linejoin="round"/>
<polyline points="171.5,515.4 171.1,509.8 171.9,504.9 174.3,500.0 176.7,502.1 179.5,502.8 180.7,497.9 183.1,495.1 187.5,491.6 189.9,486.7 192.3,481.8 194.7,479.7 197.1,479.0 197.9,474.8 200.3,471.3 202.3,465.7 204.3,465.0 205.9,469.2 207.9,473.4 210.7,474.8 212.7,476.9 209.9,479.7 208.7,483.2 206.3,484.6 206.3,488.8 204.7,490.9 207.5,497.9 211.1,505.6 209.5,507.7 206.7,508.4 205.5,515.4" fill="none" stroke="#000" stroke-width="1.1" stroke-linejoin="round"/>
<polyline points="133.5,515.4 131.9,510.5 129.5,502.1 126.7,498.6 124.7,493.0 121.5,488.1 119.1,483.9 116.7,479.0 116.3,474.8 118.3,474.8 121.1,477.6 125.5,477.6 128.7,484.6 131.5,488.8 134.7,493.7 137.1,498.6 139.5,500.0 141.1,502.1 144.3,504.2 147.1,509.8 149.5,515.4" fill="none" stroke="#000" stroke-width="1.1" stroke-linejoin="round"/>
<polyline points="214.7,515.4 215.9,509.1 218.3,505.6 223.5,507.0 229.5,507.7 233.5,504.9 236.3,503.5 233.9,509.8 229.5,511.2 223.5,510.9 218.7,511.2 217.9,515.4" fill="none" stroke="#000" stroke-width="1.1" stroke-linejoin="round"/>
<polyline points="245.5,500.7 247.5,498.6 247.5,504.2 250.3,507.0 248.3,509.8 247.1,515.4" fill="none" stroke="#000" stroke-width="1.1" stroke-linejoin="round"/>
<polyline points="245.1,515.4 245.1,509.8 245.5,500.7" fill="none" stroke="#000" stroke-width="1.1" stroke-linejoin="round"/>
<polyline points="106.3,419.5 107.1,426.5 106.3,433.5 105.5,438.4" fill="none" stroke="#000" stroke-width="1.1" stroke-linejoin="round"/>
<rect x="181.5" y="339" width="34.0" height="35" fill="none" stroke="#000" stroke-width="1.8" stroke-dasharray="4.5,3"/>
<rect x="175.5" y="409" width="40.0" height="70" fill="none" stroke="#000" stroke-width="1.8" stroke-dasharray="4.5,3"/>
<line x1="59.5" y1="321.5" x2="55.0" y2="321.5" stroke="#000" stroke-width="1.6"/>
<polygon points="51.5,321.5 55.5,319.5 55.5,323.5" fill="#000"/>
<line x1="133.5" y1="340.0" x2="123.0" y2="338.7" stroke="#000" stroke-width="1.6"/>
<polygon points="117.5,338.0 123.8,335.8 123.1,341.7" fill="#000"/>
<line x1="142.5" y1="340.0" x2="133.9" y2="338.8" stroke="#000" stroke-width="1.6"/>
<polygon points="128.5,338.0 134.9,335.9 134.0,341.8" fill="#000"/>
<line x1="151.5" y1="340.0" x2="144.9" y2="338.9" stroke="#000" stroke-width="1.6"/>
<polygon points="139.5,338.0 145.9,336.0 144.9,341.9" fill="#000"/>
<line x1="122.5" y1="354.5" x2="113.8" y2="357.0" stroke="#000" stroke-width="1.6"/>
<polygon points="108.5,358.5 113.4,354.0 115.1,359.7" fill="#000"/>
<line x1="133.5" y1="357.0" x2="123.0" y2="356.3" stroke="#000" stroke-width="1.6"/>
<polygon points="117.5,356.0 123.7,353.4 123.3,359.4" fill="#000"/>
<line x1="144.5" y1="357.5" x2="132.0" y2="356.1" stroke="#000" stroke-width="1.6"/>
<polygon points="126.5,355.5 132.8,353.2 132.1,359.1" fill="#000"/>
<line x1="108.5" y1="367.0" x2="104.7" y2="375.9" stroke="#000" stroke-width="1.6"/>
<polygon points="102.5,381.0 102.1,374.3 107.6,376.7" fill="#000"/>
<line x1="119.5" y1="368.0" x2="114.6" y2="375.4" stroke="#000" stroke-width="1.6"/>
<polygon points="111.5,380.0 112.3,373.3 117.3,376.7" fill="#000"/>
<line x1="134.5" y1="373.0" x2="122.0" y2="374.4" stroke="#000" stroke-width="1.6"/>
<polygon points="116.5,375.0 122.1,371.4 122.8,377.3" fill="#000"/>
<line x1="144.5" y1="373.0" x2="132.0" y2="374.4" stroke="#000" stroke-width="1.6"/>
<polygon points="126.5,375.0 132.1,371.4 132.8,377.3" fill="#000"/>
<line x1="154.5" y1="373.0" x2="142.0" y2="374.4" stroke="#000" stroke-width="1.6"/>
<polygon points="136.5,375.0 142.1,371.4 142.8,377.3" fill="#000"/>
<line x1="144.5" y1="392.5" x2="132.0" y2="391.1" stroke="#000" stroke-width="1.6"/>
<polygon points="126.5,390.5 132.8,388.2 132.1,394.1" fill="#000"/>
<line x1="153.5" y1="393.5" x2="142.8" y2="390.8" stroke="#000" stroke-width="1.6"/>
<polygon points="137.5,389.5 144.0,388.0 142.6,393.9" fill="#000"/>
<line x1="162.5" y1="394.5" x2="153.6" y2="390.7" stroke="#000" stroke-width="1.6"/>
<polygon points="148.5,388.5 155.2,388.1 152.8,393.6" fill="#000"/>
<line x1="75.0" y1="400.0" x2="75.7" y2="412.5" stroke="#000" stroke-width="1.6"/>
<polygon points="76.0,418.0 72.7,412.2 78.7,411.8" fill="#000"/>
<line x1="75.0" y1="418.5" x2="75.7" y2="429.0" stroke="#000" stroke-width="1.6"/>
<polygon points="76.0,434.5 72.6,428.7 78.6,428.3" fill="#000"/>
<line x1="85.0" y1="381.5" x2="85.7" y2="396.0" stroke="#000" stroke-width="1.6"/>
<polygon points="86.0,401.5 82.7,395.7 88.7,395.4" fill="#000"/>
<line x1="85.2" y1="400.0" x2="85.6" y2="412.5" stroke="#000" stroke-width="1.6"/>
<polygon points="85.8,418.0 82.6,412.1 88.6,411.9" fill="#000"/>
<line x1="85.0" y1="417.5" x2="85.7" y2="430.0" stroke="#000" stroke-width="1.6"/>
<polygon points="86.0,435.5 82.7,429.7 88.7,429.3" fill="#000"/>
<line x1="94.5" y1="380.5" x2="96.0" y2="397.0" stroke="#000" stroke-width="1.6"/>
<polygon points="96.5,402.5 93.0,396.8 98.9,396.3" fill="#000"/>
<line x1="94.5" y1="400.0" x2="95.9" y2="412.5" stroke="#000" stroke-width="1.6"/>
<polygon points="96.5,418.0 92.9,412.4 98.8,411.7" fill="#000"/>
<line x1="94.5" y1="417.5" x2="95.9" y2="430.0" stroke="#000" stroke-width="1.6"/>
<polygon points="96.5,435.5 92.9,429.9 98.8,429.2" fill="#000"/>
<line x1="105.0" y1="399.0" x2="105.7" y2="413.5" stroke="#000" stroke-width="1.6"/>
<polygon points="106.0,419.0 102.7,413.2 108.7,412.9" fill="#000"/>
<line x1="113.0" y1="422.5" x2="132.8" y2="428.8" stroke="#000" stroke-width="1.6"/>
<polygon points="138.0,430.5 131.4,431.5 133.2,425.8" fill="#000"/>
<line x1="156.5" y1="440.0" x2="169.5" y2="445.8" stroke="#000" stroke-width="1.6"/>
<polygon points="174.5,448.0 167.8,448.3 170.2,442.8" fill="#000"/>
<line x1="166.5" y1="436.0" x2="180.4" y2="448.3" stroke="#000" stroke-width="1.6"/>
<polygon points="184.5,452.0 178.0,450.3 182.0,445.8" fill="#000"/>
<line x1="176.5" y1="435.0" x2="190.6" y2="449.1" stroke="#000" stroke-width="1.6"/>
<polygon points="194.5,453.0 188.1,450.9 192.4,446.6" fill="#000"/>
<line x1="199.5" y1="450.0" x2="207.6" y2="441.9" stroke="#000" stroke-width="1.6"/>
<polygon points="211.5,438.0 209.4,444.4 205.1,440.1" fill="#000"/>
<line x1="180.5" y1="418.0" x2="187.7" y2="430.3" stroke="#000" stroke-width="1.6"/>
<polygon points="190.5,435.0 184.9,431.3 190.0,428.3" fill="#000"/>
<line x1="190.5" y1="419.0" x2="197.4" y2="429.4" stroke="#000" stroke-width="1.6"/>
<polygon points="200.5,434.0 194.7,430.7 199.7,427.3" fill="#000"/>
<line x1="162.5" y1="403.0" x2="166.0" y2="410.1" stroke="#000" stroke-width="1.6"/>
<polygon points="168.5,415.0 163.1,411.0 168.5,408.3" fill="#000"/>
<line x1="201.5" y1="294.0" x2="192.3" y2="309.3" stroke="#000" stroke-width="1.6"/>
<polygon points="189.5,314.0 190.0,307.3 195.2,310.4" fill="#000"/>
<line x1="211.5" y1="294.0" x2="202.3" y2="309.3" stroke="#000" stroke-width="1.6"/>
<polygon points="199.5,314.0 200.0,307.3 205.2,310.4" fill="#000"/>
<line x1="220.5" y1="294.0" x2="213.0" y2="309.1" stroke="#000" stroke-width="1.6"/>
<polygon points="210.5,314.0 210.5,307.3 215.9,310.0" fill="#000"/>
<line x1="203.0" y1="308.5" x2="190.7" y2="329.7" stroke="#000" stroke-width="1.6"/>
<polygon points="188.0,334.5 188.4,327.8 193.6,330.8" fill="#000"/>
<line x1="213.0" y1="308.5" x2="200.7" y2="329.7" stroke="#000" stroke-width="1.6"/>
<polygon points="198.0,334.5 198.4,327.8 203.6,330.8" fill="#000"/>
<line x1="222.0" y1="308.5" x2="211.5" y2="329.6" stroke="#000" stroke-width="1.6"/>
<polygon points="209.0,334.5 209.0,327.8 214.4,330.5" fill="#000"/>
<line x1="180.5" y1="310.5" x2="172.8" y2="327.5" stroke="#000" stroke-width="1.6"/>
<polygon points="170.5,332.5 170.3,325.8 175.7,328.3" fill="#000"/>
<line x1="189.5" y1="311.5" x2="183.5" y2="326.4" stroke="#000" stroke-width="1.6"/>
<polygon points="181.5,331.5 180.9,324.8 186.5,327.0" fill="#000"/>
<line x1="159.5" y1="330.0" x2="153.7" y2="343.0" stroke="#000" stroke-width="1.6"/>
<polygon points="151.5,348.0 151.2,341.3 156.7,343.7" fill="#000"/>
<line x1="170.0" y1="329.0" x2="163.3" y2="344.0" stroke="#000" stroke-width="1.6"/>
<polygon points="161.0,349.0 160.7,342.3 166.2,344.8" fill="#000"/>
<line x1="180.5" y1="328.0" x2="172.8" y2="345.0" stroke="#000" stroke-width="1.6"/>
<polygon points="170.5,350.0 170.3,343.3 175.7,345.8" fill="#000"/>
<line x1="211.2" y1="331.5" x2="203.1" y2="342.1" stroke="#000" stroke-width="1.6"/>
<polygon points="199.8,346.5 201.0,339.9 205.8,343.6" fill="#000"/>
<line x1="221.2" y1="332.0" x2="213.3" y2="341.7" stroke="#000" stroke-width="1.6"/>
<polygon points="209.8,346.0 211.3,339.4 216.0,343.2" fill="#000"/>
<line x1="163.5" y1="348.5" x2="151.4" y2="360.6" stroke="#000" stroke-width="1.6"/>
<polygon points="147.5,364.5 149.6,358.1 153.9,362.4" fill="#000"/>
<line x1="173.5" y1="348.5" x2="161.4" y2="360.6" stroke="#000" stroke-width="1.6"/>
<polygon points="157.5,364.5 159.6,358.1 163.9,362.4" fill="#000"/>
<line x1="183.0" y1="346.5" x2="171.3" y2="362.1" stroke="#000" stroke-width="1.6"/>
<polygon points="168.0,366.5 169.2,359.9 174.0,363.5" fill="#000"/>
<line x1="211.8" y1="349.0" x2="202.7" y2="359.8" stroke="#000" stroke-width="1.6"/>
<polygon points="199.2,364.0 200.8,357.5 205.4,361.3" fill="#000"/>
<line x1="163.5" y1="368.0" x2="151.9" y2="376.7" stroke="#000" stroke-width="1.6"/>
<polygon points="147.5,380.0 150.5,374.0 154.1,378.8" fill="#000"/>
<line x1="173.5" y1="368.0" x2="161.9" y2="376.7" stroke="#000" stroke-width="1.6"/>
<polygon points="157.5,380.0 160.5,374.0 164.1,378.8" fill="#000"/>
<line x1="224.3" y1="365.8" x2="210.7" y2="378.5" stroke="#000" stroke-width="1.6"/>
<polygon points="206.7,382.2 209.0,375.9 213.1,380.3" fill="#000"/>
<line x1="246.5" y1="318.5" x2="245.3" y2="322.0" stroke="#000" stroke-width="1.6"/>
<polygon points="244.5,324.5 244.0,321.0 247.0,322.0" fill="#000"/>
<line x1="271.0" y1="369.0" x2="262.2" y2="349.0" stroke="#000" stroke-width="1.6"/>
<polygon points="260.0,344.0 265.2,348.3 259.7,350.7" fill="#000"/>
<line x1="270.5" y1="386.0" x2="262.6" y2="367.1" stroke="#000" stroke-width="1.6"/>
<polygon points="260.5,362.0 265.6,366.4 260.0,368.7" fill="#000"/>
<line x1="269.5" y1="402.5" x2="263.4" y2="385.7" stroke="#000" stroke-width="1.6"/>
<polygon points="261.5,380.5 266.4,385.1 260.7,387.2" fill="#000"/>
<line x1="280.5" y1="351.0" x2="272.6" y2="332.1" stroke="#000" stroke-width="1.6"/>
<polygon points="270.5,327.0 275.6,331.4 270.0,333.7" fill="#000"/>
<line x1="280.5" y1="369.0" x2="272.5" y2="349.1" stroke="#000" stroke-width="1.6"/>
<polygon points="270.5,344.0 275.5,348.5 269.9,350.7" fill="#000"/>
<line x1="281.5" y1="386.5" x2="271.9" y2="366.5" stroke="#000" stroke-width="1.6"/>
<polygon points="269.5,361.5 274.8,365.6 269.4,368.2" fill="#000"/>
<line x1="279.5" y1="402.5" x2="273.4" y2="385.7" stroke="#000" stroke-width="1.6"/>
<polygon points="271.5,380.5 276.4,385.1 270.7,387.2" fill="#000"/>
<line x1="279.5" y1="332.5" x2="288.9" y2="315.3" stroke="#000" stroke-width="1.6"/>
<polygon points="291.5,310.5 291.3,317.2 286.0,314.3" fill="#000"/>
<line x1="287.5" y1="351.0" x2="284.4" y2="332.4" stroke="#000" stroke-width="1.6"/>
<polygon points="283.5,327.0 287.4,332.4 281.5,333.4" fill="#000"/>
<line x1="289.5" y1="368.5" x2="283.2" y2="349.7" stroke="#000" stroke-width="1.6"/>
<polygon points="281.5,344.5 286.2,349.2 280.6,351.1" fill="#000"/>
<line x1="291.5" y1="386.5" x2="281.9" y2="366.5" stroke="#000" stroke-width="1.6"/>
<polygon points="279.5,361.5 284.8,365.6 279.4,368.2" fill="#000"/>
<line x1="290.5" y1="402.5" x2="282.8" y2="385.5" stroke="#000" stroke-width="1.6"/>
<polygon points="280.5,380.5 285.7,384.7 280.3,387.2" fill="#000"/>
<line x1="289.5" y1="331.5" x2="298.7" y2="316.2" stroke="#000" stroke-width="1.6"/>
<polygon points="301.5,311.5 301.0,318.2 295.8,315.1" fill="#000"/>
<line x1="291.5" y1="350.0" x2="297.6" y2="333.2" stroke="#000" stroke-width="1.6"/>
<polygon points="299.5,328.0 300.3,334.7 294.6,332.6" fill="#000"/>
<line x1="297.5" y1="368.5" x2="294.4" y2="349.9" stroke="#000" stroke-width="1.6"/>
<polygon points="293.5,344.5 297.4,349.9 291.5,350.9" fill="#000"/>
<line x1="300.5" y1="386.0" x2="292.6" y2="367.1" stroke="#000" stroke-width="1.6"/>
<polygon points="290.5,362.0 295.6,366.4 290.0,368.7" fill="#000"/>
<line x1="302.5" y1="399.5" x2="292.1" y2="387.6" stroke="#000" stroke-width="1.6"/>
<polygon points="288.5,383.5 294.7,386.0 290.2,390.0" fill="#000"/>
<line x1="298.5" y1="308.0" x2="307.7" y2="302.7" stroke="#000" stroke-width="1.6"/>
<polygon points="312.5,300.0 308.8,305.6 305.8,300.4" fill="#000"/>
<line x1="299.5" y1="329.5" x2="308.2" y2="317.9" stroke="#000" stroke-width="1.6"/>
<polygon points="311.5,313.5 310.3,320.1 305.5,316.5" fill="#000"/>
<line x1="302.5" y1="350.0" x2="307.1" y2="333.3" stroke="#000" stroke-width="1.6"/>
<polygon points="308.5,328.0 309.8,334.6 304.0,333.0" fill="#000"/>
<line x1="306.5" y1="368.5" x2="305.0" y2="350.0" stroke="#000" stroke-width="1.6"/>
<polygon points="304.5,344.5 308.0,350.2 302.0,350.7" fill="#000"/>
<line x1="246.5" y1="336.5" x2="245.3" y2="339.5" stroke="#000" stroke-width="1.6"/>
<polygon points="244.5,341.5 244.2,338.5 246.8,339.5" fill="#000"/>
<line x1="308.5" y1="307.0" x2="317.4" y2="303.2" stroke="#000" stroke-width="1.6"/>
<polygon points="322.5,301.0 318.2,306.1 315.8,300.6" fill="#000"/>
<line x1="266.5" y1="419.0" x2="265.0" y2="404.5" stroke="#000" stroke-width="1.6"/>
<polygon points="264.5,399.0 268.1,404.7 262.1,405.3" fill="#000"/>
<line x1="276.5" y1="420.0" x2="275.0" y2="403.5" stroke="#000" stroke-width="1.6"/>
<polygon points="274.5,398.0 278.0,403.7 272.1,404.2" fill="#000"/>
<line x1="288.0" y1="420.0" x2="284.2" y2="403.4" stroke="#000" stroke-width="1.6"/>
<polygon points="283.0,398.0 287.3,403.2 281.4,404.5" fill="#000"/>
<line x1="298.0" y1="420.0" x2="294.2" y2="403.4" stroke="#000" stroke-width="1.6"/>
<polygon points="293.0,398.0 297.3,403.2 291.4,404.5" fill="#000"/>
<line x1="248.0" y1="452.5" x2="259.4" y2="439.6" stroke="#000" stroke-width="1.6"/>
<polygon points="263.0,435.5 261.3,442.0 256.8,438.0" fill="#000"/>
<line x1="259.0" y1="453.0" x2="268.8" y2="439.5" stroke="#000" stroke-width="1.6"/>
<polygon points="272.0,435.0 270.9,441.6 266.1,438.1" fill="#000"/>
<line x1="269.5" y1="454.0" x2="278.7" y2="438.7" stroke="#000" stroke-width="1.6"/>
<polygon points="281.5,434.0 281.0,440.7 275.8,437.6" fill="#000"/>
<line x1="281.5" y1="455.0" x2="287.6" y2="438.2" stroke="#000" stroke-width="1.6"/>
<polygon points="289.5,433.0 290.3,439.7 284.6,437.6" fill="#000"/>
<line x1="297.0" y1="433.5" x2="295.2" y2="424.9" stroke="#000" stroke-width="1.6"/>
<polygon points="294.0,419.5 298.2,424.7 292.3,426.0" fill="#000"/>
<line x1="294.5" y1="454.0" x2="296.0" y2="439.5" stroke="#000" stroke-width="1.6"/>
<polygon points="296.5,434.0 298.9,440.3 292.9,439.7" fill="#000"/>
<line x1="305.5" y1="453.0" x2="305.5" y2="440.5" stroke="#000" stroke-width="1.6"/>
<polygon points="305.5,435.0 308.5,441.0 302.5,441.0" fill="#000"/>
<line x1="282.5" y1="469.5" x2="286.6" y2="458.6" stroke="#000" stroke-width="1.6"/>
<polygon points="288.5,453.5 289.2,460.2 283.6,458.1" fill="#000"/>
<line x1="294.0" y1="469.5" x2="296.0" y2="458.9" stroke="#000" stroke-width="1.6"/>
<polygon points="297.0,453.5 298.8,460.0 292.9,458.8" fill="#000"/>
<line x1="305.5" y1="469.5" x2="305.5" y2="459.0" stroke="#000" stroke-width="1.6"/>
<polygon points="305.5,453.5 308.5,459.5 302.5,459.5" fill="#000"/>
<line x1="312.5" y1="484.0" x2="315.8" y2="478.6" stroke="#000" stroke-width="1.6"/>
<polygon points="318.5,474.0 318.0,480.5 313.0,477.5" fill="#000"/>
<line x1="366.5" y1="451.0" x2="365.3" y2="442.4" stroke="#000" stroke-width="1.6"/>
<polygon points="364.5,437.0 368.3,442.5 362.4,443.4" fill="#000"/>
<line x1="365.5" y1="468.5" x2="365.5" y2="460.0" stroke="#000" stroke-width="1.6"/>
<polygon points="365.5,454.5 368.5,460.5 362.5,460.5" fill="#000"/>
<line x1="364.5" y1="486.0" x2="365.7" y2="477.4" stroke="#000" stroke-width="1.6"/>
<polygon points="366.5,472.0 368.6,478.4 362.7,477.5" fill="#000"/>
<line x1="375.5" y1="451.0" x2="375.5" y2="442.5" stroke="#000" stroke-width="1.6"/>
<polygon points="375.5,437.0 378.5,443.0 372.5,443.0" fill="#000"/>
<line x1="375.5" y1="469.0" x2="375.5" y2="459.5" stroke="#000" stroke-width="1.6"/>
<polygon points="375.5,454.0 378.5,460.0 372.5,460.0" fill="#000"/>
<line x1="376.5" y1="486.0" x2="375.3" y2="477.4" stroke="#000" stroke-width="1.6"/>
<polygon points="374.5,472.0 378.3,477.5 372.4,478.4" fill="#000"/>
<line x1="385.5" y1="451.0" x2="385.5" y2="442.5" stroke="#000" stroke-width="1.6"/>
<polygon points="385.5,437.0 388.5,443.0 382.5,443.0" fill="#000"/>
<line x1="385.5" y1="469.0" x2="385.5" y2="459.5" stroke="#000" stroke-width="1.6"/>
<polygon points="385.5,454.0 388.5,460.0 382.5,460.0" fill="#000"/>
<line x1="385.5" y1="486.0" x2="385.5" y2="477.5" stroke="#000" stroke-width="1.6"/>
<polygon points="385.5,472.0 388.5,478.0 382.5,478.0" fill="#000"/>
<line x1="395.5" y1="451.0" x2="395.5" y2="442.5" stroke="#000" stroke-width="1.6"/>
<polygon points="395.5,437.0 398.5,443.0 392.5,443.0" fill="#000"/>
<line x1="395.5" y1="468.5" x2="395.5" y2="460.0" stroke="#000" stroke-width="1.6"/>
<polygon points="395.5,454.5 398.5,460.5 392.5,460.5" fill="#000"/>
<line x1="395.5" y1="485.0" x2="395.5" y2="478.5" stroke="#000" stroke-width="1.6"/>
<polygon points="395.5,473.0 398.5,479.0 392.5,479.0" fill="#000"/>
<line x1="405.5" y1="466.5" x2="405.5" y2="461.0" stroke="#000" stroke-width="1.6"/>
<polygon points="405.5,456.5 408.0,461.5 403.0,461.5" fill="#000"/>
<line x1="405.5" y1="484.0" x2="405.5" y2="478.5" stroke="#000" stroke-width="1.6"/>
<polygon points="405.5,474.0 408.0,479.0 403.0,479.0" fill="#000"/>
<line x1="415.0" y1="484.0" x2="415.5" y2="478.5" stroke="#000" stroke-width="1.6"/>
<polygon points="416.0,474.0 418.0,479.2 413.0,478.8" fill="#000"/>
<line x1="424.5" y1="415.0" x2="425.6" y2="408.4" stroke="#000" stroke-width="1.6"/>
<polygon points="426.5,403.0 428.5,409.4 422.6,408.4" fill="#000"/>
<line x1="434.5" y1="415.0" x2="435.6" y2="408.4" stroke="#000" stroke-width="1.6"/>
<polygon points="436.5,403.0 438.5,409.4 432.6,408.4" fill="#000"/>
<line x1="444.5" y1="415.0" x2="445.6" y2="408.4" stroke="#000" stroke-width="1.6"/>
<polygon points="446.5,403.0 448.5,409.4 442.6,408.4" fill="#000"/>
<line x1="424.5" y1="432.5" x2="425.6" y2="425.9" stroke="#000" stroke-width="1.6"/>
<polygon points="426.5,420.5 428.5,426.9 422.6,425.9" fill="#000"/>
<line x1="434.5" y1="432.5" x2="435.6" y2="425.9" stroke="#000" stroke-width="1.6"/>
<polygon points="436.5,420.5 438.5,426.9 432.6,425.9" fill="#000"/>
<line x1="444.5" y1="432.5" x2="445.6" y2="425.9" stroke="#000" stroke-width="1.6"/>
<polygon points="446.5,420.5 448.5,426.9 442.6,425.9" fill="#000"/>
<line x1="435.5" y1="450.0" x2="435.5" y2="443.5" stroke="#000" stroke-width="1.6"/>
<polygon points="435.5,438.0 438.5,444.0 432.5,444.0" fill="#000"/>
<line x1="445.5" y1="450.0" x2="445.5" y2="443.5" stroke="#000" stroke-width="1.6"/>
<polygon points="445.5,438.0 448.5,444.0 442.5,444.0" fill="#000"/>
<line x1="445.5" y1="467.5" x2="445.5" y2="461.0" stroke="#000" stroke-width="1.6"/>
<polygon points="445.5,455.5 448.5,461.5 442.5,461.5" fill="#000"/>
<line x1="444.5" y1="485.0" x2="445.6" y2="478.4" stroke="#000" stroke-width="1.6"/>
<polygon points="446.5,473.0 448.5,479.4 442.6,478.4" fill="#000"/>
<line x1="455.5" y1="484.0" x2="455.5" y2="478.5" stroke="#000" stroke-width="1.6"/>
<polygon points="455.5,474.0 458.0,479.0 453.0,479.0" fill="#000"/>
<line x1="424.5" y1="396.5" x2="425.6" y2="391.0" stroke="#000" stroke-width="1.6"/>
<polygon points="426.5,386.5 428.0,392.0 423.0,391.0" fill="#000"/>
<line x1="434.5" y1="396.5" x2="435.6" y2="391.0" stroke="#000" stroke-width="1.6"/>
<polygon points="436.5,386.5 438.0,392.0 433.0,391.0" fill="#000"/>
<line x1="222.5" y1="349.0" x2="212.3" y2="360.0" stroke="#000" stroke-width="1.6"/>
<polygon points="208.5,364.0 210.4,357.6 214.8,361.7" fill="#000"/>
<line x1="183.5" y1="368.0" x2="171.9" y2="376.7" stroke="#000" stroke-width="1.6"/>
<polygon points="167.5,380.0 170.5,374.0 174.1,378.8" fill="#000"/>
<line x1="169.5" y1="311.5" x2="163.5" y2="326.4" stroke="#000" stroke-width="1.6"/>
<polygon points="161.5,331.5 160.9,324.8 166.5,327.0" fill="#000"/>
<line x1="159.5" y1="312.5" x2="153.7" y2="325.5" stroke="#000" stroke-width="1.6"/>
<polygon points="151.5,330.5 151.2,323.8 156.7,326.2" fill="#000"/>
<line x1="96.5" y1="443.0" x2="109.0" y2="444.4" stroke="#000" stroke-width="1.6"/>
<polygon points="114.5,445.0 108.2,447.3 108.9,441.4" fill="#000"/>
<line x1="106.5" y1="443.0" x2="119.0" y2="444.4" stroke="#000" stroke-width="1.6"/>
<polygon points="124.5,445.0 118.2,447.3 118.9,441.4" fill="#000"/>
<line x1="116.5" y1="443.0" x2="129.0" y2="444.4" stroke="#000" stroke-width="1.6"/>
<polygon points="134.5,445.0 128.2,447.3 128.9,441.4" fill="#000"/>
<line x1="126.5" y1="443.0" x2="139.0" y2="444.4" stroke="#000" stroke-width="1.6"/>
<polygon points="144.5,445.0 138.2,447.3 138.9,441.4" fill="#000"/>
<line x1="136.5" y1="443.0" x2="149.0" y2="444.4" stroke="#000" stroke-width="1.6"/>
<polygon points="154.5,445.0 148.2,447.3 148.9,441.4" fill="#000"/>
<line x1="146.5" y1="443.0" x2="159.0" y2="444.4" stroke="#000" stroke-width="1.6"/>
<polygon points="164.5,445.0 158.2,447.3 158.9,441.4" fill="#000"/>
<line x1="86.5" y1="460.5" x2="99.0" y2="461.9" stroke="#000" stroke-width="1.6"/>
<polygon points="104.5,462.5 98.2,464.8 98.9,458.9" fill="#000"/>
<line x1="96.5" y1="460.5" x2="109.0" y2="461.9" stroke="#000" stroke-width="1.6"/>
<polygon points="114.5,462.5 108.2,464.8 108.9,458.9" fill="#000"/>
<line x1="106.5" y1="460.5" x2="119.0" y2="461.9" stroke="#000" stroke-width="1.6"/>
<polygon points="124.5,462.5 118.2,464.8 118.9,458.9" fill="#000"/>
<line x1="116.5" y1="460.5" x2="129.0" y2="461.9" stroke="#000" stroke-width="1.6"/>
<polygon points="134.5,462.5 128.2,464.8 128.9,458.9" fill="#000"/>
<line x1="126.5" y1="460.5" x2="139.0" y2="461.9" stroke="#000" stroke-width="1.6"/>
<polygon points="144.5,462.5 138.2,464.8 138.9,458.9" fill="#000"/>
<line x1="136.5" y1="460.5" x2="149.0" y2="461.9" stroke="#000" stroke-width="1.6"/>
<polygon points="154.5,462.5 148.2,464.8 148.9,458.9" fill="#000"/>
<line x1="146.5" y1="460.5" x2="159.0" y2="461.9" stroke="#000" stroke-width="1.6"/>
<polygon points="164.5,462.5 158.2,464.8 158.9,458.9" fill="#000"/>
<line x1="156.5" y1="460.5" x2="169.0" y2="461.9" stroke="#000" stroke-width="1.6"/>
<polygon points="174.5,462.5 168.2,464.8 168.9,458.9" fill="#000"/>
<line x1="166.5" y1="460.5" x2="179.0" y2="461.9" stroke="#000" stroke-width="1.6"/>
<polygon points="184.5,462.5 178.2,464.8 178.9,458.9" fill="#000"/>
<line x1="176.5" y1="460.5" x2="189.0" y2="461.9" stroke="#000" stroke-width="1.6"/>
<polygon points="194.5,462.5 188.2,464.8 188.9,458.9" fill="#000"/>
<line x1="186.5" y1="460.5" x2="199.0" y2="461.9" stroke="#000" stroke-width="1.6"/>
<polygon points="204.5,462.5 198.2,464.8 198.9,458.9" fill="#000"/>
<line x1="196.5" y1="460.5" x2="209.0" y2="461.9" stroke="#000" stroke-width="1.6"/>
<polygon points="214.5,462.5 208.2,464.8 208.9,458.9" fill="#000"/>
<line x1="206.5" y1="460.5" x2="219.0" y2="461.9" stroke="#000" stroke-width="1.6"/>
<polygon points="224.5,462.5 218.2,464.8 218.9,458.9" fill="#000"/>
<line x1="216.5" y1="460.5" x2="229.0" y2="461.9" stroke="#000" stroke-width="1.6"/>
<polygon points="234.5,462.5 228.2,464.8 228.9,458.9" fill="#000"/>
<line x1="226.5" y1="460.5" x2="239.0" y2="461.9" stroke="#000" stroke-width="1.6"/>
<polygon points="244.5,462.5 238.2,464.8 238.9,458.9" fill="#000"/>
<line x1="236.5" y1="460.5" x2="249.0" y2="461.9" stroke="#000" stroke-width="1.6"/>
<polygon points="254.5,462.5 248.2,464.8 248.9,458.9" fill="#000"/>
<line x1="105.5" y1="479.0" x2="120.0" y2="479.0" stroke="#000" stroke-width="1.6"/>
<polygon points="125.5,479.0 119.5,482.0 119.5,476.0" fill="#000"/>
<line x1="115.5" y1="479.0" x2="130.0" y2="479.0" stroke="#000" stroke-width="1.6"/>
<polygon points="135.5,479.0 129.5,482.0 129.5,476.0" fill="#000"/>
<line x1="125.5" y1="479.0" x2="140.0" y2="479.0" stroke="#000" stroke-width="1.6"/>
<polygon points="145.5,479.0 139.5,482.0 139.5,476.0" fill="#000"/>
<line x1="135.5" y1="479.0" x2="150.0" y2="479.0" stroke="#000" stroke-width="1.6"/>
<polygon points="155.5,479.0 149.5,482.0 149.5,476.0" fill="#000"/>
<line x1="145.5" y1="479.0" x2="160.0" y2="479.0" stroke="#000" stroke-width="1.6"/>
<polygon points="165.5,479.0 159.5,482.0 159.5,476.0" fill="#000"/>
<line x1="155.5" y1="479.0" x2="170.0" y2="479.0" stroke="#000" stroke-width="1.6"/>
<polygon points="175.5,479.0 169.5,482.0 169.5,476.0" fill="#000"/>
<line x1="165.5" y1="479.0" x2="180.0" y2="479.0" stroke="#000" stroke-width="1.6"/>
<polygon points="185.5,479.0 179.5,482.0 179.5,476.0" fill="#000"/>
<line x1="175.5" y1="479.0" x2="190.0" y2="479.0" stroke="#000" stroke-width="1.6"/>
<polygon points="195.5,479.0 189.5,482.0 189.5,476.0" fill="#000"/>
<line x1="185.5" y1="479.0" x2="200.0" y2="479.0" stroke="#000" stroke-width="1.6"/>
<polygon points="205.5,479.0 199.5,482.0 199.5,476.0" fill="#000"/>
<line x1="195.5" y1="479.0" x2="210.0" y2="479.0" stroke="#000" stroke-width="1.6"/>
<polygon points="215.5,479.0 209.5,482.0 209.5,476.0" fill="#000"/>
<line x1="205.5" y1="479.0" x2="220.0" y2="479.0" stroke="#000" stroke-width="1.6"/>
<polygon points="225.5,479.0 219.5,482.0 219.5,476.0" fill="#000"/>
<line x1="215.5" y1="479.0" x2="230.0" y2="479.0" stroke="#000" stroke-width="1.6"/>
<polygon points="235.5,479.0 229.5,482.0 229.5,476.0" fill="#000"/>
<line x1="225.5" y1="479.0" x2="240.0" y2="479.0" stroke="#000" stroke-width="1.6"/>
<polygon points="245.5,479.0 239.5,482.0 239.5,476.0" fill="#000"/>
<line x1="235.5" y1="479.0" x2="250.0" y2="479.0" stroke="#000" stroke-width="1.6"/>
<polygon points="255.5,479.0 249.5,482.0 249.5,476.0" fill="#000"/>
<line x1="245.5" y1="479.0" x2="260.0" y2="479.0" stroke="#000" stroke-width="1.6"/>
<polygon points="265.5,479.0 259.5,482.0 259.5,476.0" fill="#000"/>
<line x1="255.5" y1="479.0" x2="270.0" y2="479.0" stroke="#000" stroke-width="1.6"/>
<polygon points="275.5,479.0 269.5,482.0 269.5,476.0" fill="#000"/>
<line x1="176.5" y1="499.5" x2="189.3" y2="495.2" stroke="#000" stroke-width="1.6"/>
<polygon points="194.5,493.5 189.8,498.2 187.9,492.6" fill="#000"/>
<line x1="186.5" y1="499.5" x2="199.3" y2="495.2" stroke="#000" stroke-width="1.6"/>
<polygon points="204.5,493.5 199.8,498.2 197.9,492.6" fill="#000"/>
<line x1="196.5" y1="499.5" x2="209.3" y2="495.2" stroke="#000" stroke-width="1.6"/>
<polygon points="214.5,493.5 209.8,498.2 207.9,492.6" fill="#000"/>
<line x1="206.5" y1="499.5" x2="219.3" y2="495.2" stroke="#000" stroke-width="1.6"/>
<polygon points="224.5,493.5 219.8,498.2 217.9,492.6" fill="#000"/>
<line x1="216.5" y1="499.5" x2="229.3" y2="495.2" stroke="#000" stroke-width="1.6"/>
<polygon points="234.5,493.5 229.8,498.2 227.9,492.6" fill="#000"/>
<line x1="226.5" y1="499.5" x2="239.3" y2="495.2" stroke="#000" stroke-width="1.6"/>
<polygon points="244.5,493.5 239.8,498.2 237.9,492.6" fill="#000"/>
<line x1="236.5" y1="499.5" x2="249.3" y2="495.2" stroke="#000" stroke-width="1.6"/>
<polygon points="254.5,493.5 249.8,498.2 247.9,492.6" fill="#000"/>
<line x1="246.5" y1="499.5" x2="259.3" y2="495.2" stroke="#000" stroke-width="1.6"/>
<polygon points="264.5,493.5 259.8,498.2 257.9,492.6" fill="#000"/>
<line x1="256.5" y1="499.5" x2="269.3" y2="495.2" stroke="#000" stroke-width="1.6"/>
<polygon points="274.5,493.5 269.8,498.2 267.9,492.6" fill="#000"/>
<defs><pattern id="stb" patternUnits="userSpaceOnUse" x="9.6" y="7.4" width="10" height="10.2"><circle cx="0" cy="0" r="1.05" fill="#000"/><circle cx="10" cy="0" r="1.05" fill="#000"/><circle cx="0" cy="10.2" r="1.05" fill="#000"/><circle cx="10" cy="10.2" r="1.05" fill="#000"/><circle cx="5" cy="5.1" r="1.05" fill="#000"/></pattern></defs>
<polygon points="62,304 98,304 95,312 70,312" fill="url(#stb)"/>
<polygon points="138,335 150,322 170,315 185,318 182,335 172,352 158,362 142,358" fill="url(#stb)"/>
<polygon points="108,382 125,377 145,382 149,400 146,428 125,432 108,425 105,400" fill="url(#stb)"/>
<polygon points="173,388 200,386 225,376 241,378 241,443 200,444 173,440" fill="url(#stb)"/>
<polygon points="300,320 325,315 345,320 350,335 340,350 315,360 300,355" fill="url(#stb)"/>
<polygon points="95,472 110,465 130,470 135,485 128,500 110,505 97,495" fill="url(#stb)"/>
<polygon points="156,490 175,488 178,500 175,514 156,514" fill="url(#stb)"/>
</g>
<rect x="55.5" y="304" width="401.2" height="210" fill="none" stroke="#000" stroke-width="1.7"/>
<line x1="48" y1="304" x2="56" y2="304" stroke="#000" stroke-width="1.6"/>
<text x="42.5" y="312" font-size="21" text-anchor="end">30<tspan font-size="13" dy="-9">o</tspan><tspan dy="9">N</tspan></text>
<line x1="48" y1="374" x2="56" y2="374" stroke="#000" stroke-width="1.6"/>
<text x="42.5" y="382" font-size="21" text-anchor="end">20<tspan font-size="13" dy="-9">o</tspan><tspan dy="9">N</tspan></text>
<line x1="48" y1="444" x2="56" y2="444" stroke="#000" stroke-width="1.6"/>
<text x="42.5" y="452" font-size="21" text-anchor="end">10<tspan font-size="13" dy="-9">o</tspan><tspan dy="9">N</tspan></text>
<line x1="48" y1="514" x2="56" y2="514" stroke="#000" stroke-width="1.6"/>
<text x="43" y="522" font-size="21" text-anchor="end">0<tspan font-size="13" dy="-9">o</tspan></text>
<line x1="55.5" y1="514" x2="55.5" y2="521" stroke="#000" stroke-width="1.6"/>
<line x1="95.62" y1="514" x2="95.62" y2="517.5" stroke="#000" stroke-width="1.6"/>
<line x1="135.74" y1="514" x2="135.74" y2="521" stroke="#000" stroke-width="1.6"/>
<line x1="175.85999999999999" y1="514" x2="175.85999999999999" y2="517.5" stroke="#000" stroke-width="1.6"/>
<line x1="215.98" y1="514" x2="215.98" y2="521" stroke="#000" stroke-width="1.6"/>
<line x1="256.1" y1="514" x2="256.1" y2="517.5" stroke="#000" stroke-width="1.6"/>
<line x1="296.21999999999997" y1="514" x2="296.21999999999997" y2="521" stroke="#000" stroke-width="1.6"/>
<line x1="336.34" y1="514" x2="336.34" y2="517.5" stroke="#000" stroke-width="1.6"/>
<line x1="376.46" y1="514" x2="376.46" y2="521" stroke="#000" stroke-width="1.6"/>
<line x1="416.58" y1="514" x2="416.58" y2="517.5" stroke="#000" stroke-width="1.6"/>
<line x1="456.7" y1="514" x2="456.7" y2="521" stroke="#000" stroke-width="1.6"/>
<text x="55.5" y="543.5" font-size="21" text-anchor="middle">80<tspan font-size="13" dy="-9">o</tspan><tspan dy="9">E</tspan></text>
<text x="135.74" y="543.5" font-size="21" text-anchor="middle">100<tspan font-size="13" dy="-9">o</tspan><tspan dy="9">E</tspan></text>
<text x="215.98" y="543.5" font-size="21" text-anchor="middle">120<tspan font-size="13" dy="-9">o</tspan><tspan dy="9">E</tspan></text>
<text x="296.21999999999997" y="543.5" font-size="21" text-anchor="middle">140<tspan font-size="13" dy="-9">o</tspan><tspan dy="9">E</tspan></text>
<text x="376.46" y="543.5" font-size="21" text-anchor="middle">160<tspan font-size="13" dy="-9">o</tspan><tspan dy="9">E</tspan></text>
<text x="462.7" y="543.5" font-size="21" text-anchor="middle">180<tspan font-size="13" dy="-9">o</tspan><tspan dy="9">E</tspan></text>
<text x="55" y="15" font-size="21">(a)</text>
<text x="366" y="15.5" font-size="21" textLength="91" lengthAdjust="spacingAndGlyphs">1951-1986</text>
<text x="55" y="301" font-size="21">(b)</text>
<text x="366" y="301.5" font-size="21" textLength="91" lengthAdjust="spacingAndGlyphs">1987-2018</text>
<rect x="425" y="18" width="31.7" height="53.5" fill="#fff" stroke="#000" stroke-width="1.4"/>
<text x="440" y="38" font-size="20" text-anchor="middle">1</text>
<line x1="429" y1="52.5" x2="446" y2="52.5" stroke="#000" stroke-width="1.3"/>
<polygon points="451,52.5 444,49.8 444,55.2" fill="#000"/>
<rect x="425" y="304" width="31.7" height="53.5" fill="#fff" stroke="#000" stroke-width="1.4"/>
<text x="440" y="324" font-size="20" text-anchor="middle">1</text>
<line x1="429" y1="338.5" x2="446" y2="338.5" stroke="#000" stroke-width="1.3"/>
<polygon points="451,338.5 444,335.8 444,341.2" fill="#000"/>
<rect x="78.50" y="553.5" width="35.60" height="19" fill="#191970" stroke="#000" stroke-width="1"/>
<rect x="114.10" y="553.5" width="35.60" height="19" fill="#104e8b" stroke="#000" stroke-width="1"/>
<rect x="149.70" y="553.5" width="35.60" height="19" fill="#4876ff" stroke="#000" stroke-width="1"/>
<rect x="185.30" y="553.5" width="35.60" height="19" fill="#5cacee" stroke="#000" stroke-width="1"/>
<rect x="220.90" y="553.5" width="35.60" height="19" fill="#add8e6" stroke="#000" stroke-width="1"/>
<rect x="256.50" y="553.5" width="35.60" height="19" fill="#ffdead" stroke="#000" stroke-width="1"/>
<rect x="292.10" y="553.5" width="35.60" height="19" fill="#f4a460" stroke="#000" stroke-width="1"/>
<rect x="327.70" y="553.5" width="35.60" height="19" fill="#ee7600" stroke="#000" stroke-width="1"/>
<rect x="363.30" y="553.5" width="35.60" height="19" fill="#e03214" stroke="#000" stroke-width="1"/>
<rect x="398.90" y="553.5" width="35.60" height="19" fill="#cd0000" stroke="#000" stroke-width="1"/>
<text x="114.10" y="588" font-size="13" text-anchor="middle">-4</text>
<text x="149.70" y="588" font-size="13" text-anchor="middle">-3</text>
<text x="185.30" y="588" font-size="13" text-anchor="middle">-2</text>
<text x="220.90" y="588" font-size="13" text-anchor="middle">-1</text>
<text x="256.50" y="588" font-size="13" text-anchor="middle">0</text>
<text x="292.10" y="588" font-size="13" text-anchor="middle">1</text>
<text x="327.70" y="588" font-size="13" text-anchor="middle">2</text>
<text x="363.30" y="588" font-size="13" text-anchor="middle">3</text>
<text x="398.90" y="588" font-size="13" text-anchor="middle">4</text>
</svg></body></html>
